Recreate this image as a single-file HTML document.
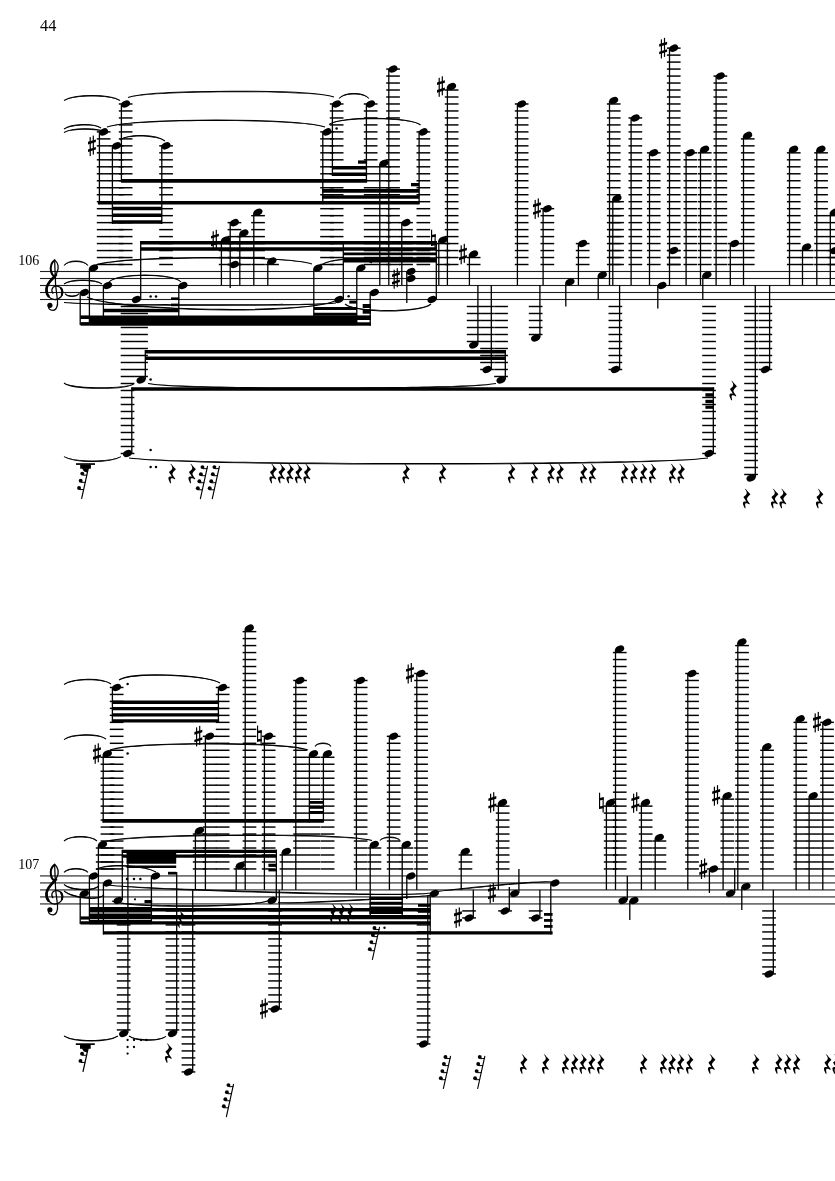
<!DOCTYPE html>
<html><head><meta charset="utf-8"><style>
html,body{margin:0;padding:0;background:#fff;}
svg{display:block;}
text{font-family:"Liberation Serif",serif;filter:grayscale(1);}
</style></head><body>
<svg width="835" height="1181" viewBox="0 0 835 1181" fill="#000" stroke="#000">
<g stroke="none">
<rect x="40" y="270.95" width="795" height="1.1" fill="#1e1e1e"/>
<rect x="40" y="277.95" width="795" height="1.1" fill="#1e1e1e"/>
<rect x="40" y="284.95" width="795" height="1.1" fill="#1e1e1e"/>
<rect x="40" y="291.95" width="795" height="1.1" fill="#1e1e1e"/>
<rect x="40" y="298.95" width="795" height="1.1" fill="#1e1e1e"/>
<g transform="translate(0,0)" fill="none" stroke="#000" stroke-linecap="round"><path d="M54.6,260.2 C58.6,262.5 59.0,268.5 57.0,272.5 C54.5,277.5 47.0,281.5 46.2,288.5 C45.6,295 50.5,299.8 55,299.6 C60,299.4 63,295.5 62.5,291.5 C62,287.5 58.5,285.8 55.5,286.2 C52,286.8 50.8,290.5 52.8,293.2" stroke-width="1.3"/><path d="M56.0,275.0 C52.5,279.0 47.4,282.5 46.6,288.5 C46.2,292.0 47.0,294.5 48.5,296.2" stroke-width="2.6"/><path d="M61.8,295.0 C62.8,292.5 62.4,290.0 61.0,288.2" stroke-width="2.0"/><path d="M54.6,260.2 C51.5,262.5 50.3,267 51.0,271 C51.5,274 53.5,276 55,277" stroke-width="2.0"/><path d="M54.7,262 L55.6,285 L57.5,300.5 C58.1,306 56.2,310.6 52.8,310.4 C50.2,310.2 48.6,308.8 48.5,307" stroke-width="1.25"/></g>
<circle cx="49.9" cy="305.3" r="2.6"/>
<text x="39.3" y="264.6" font-size="14" text-anchor="end" stroke="none">106</text>
<rect x="118.8" y="263.79" width="13.7" height="1.45"/>
<rect x="118.8" y="256.81" width="13.7" height="1.45"/>
<rect x="118.8" y="249.84" width="13.7" height="1.45"/>
<rect x="118.8" y="242.85" width="13.7" height="1.45"/>
<rect x="118.8" y="235.88" width="13.7" height="1.45"/>
<rect x="118.8" y="228.9" width="13.7" height="1.45"/>
<rect x="118.8" y="221.91" width="13.7" height="1.45"/>
<rect x="118.8" y="214.94" width="13.7" height="1.45"/>
<rect x="118.8" y="207.96" width="13.7" height="1.45"/>
<rect x="118.8" y="200.97" width="13.7" height="1.45"/>
<rect x="118.8" y="194" width="13.7" height="1.45"/>
<rect x="118.8" y="187.02" width="13.7" height="1.45"/>
<rect x="118.8" y="180.03" width="13.7" height="1.45"/>
<rect x="118.8" y="173.06" width="13.7" height="1.45"/>
<rect x="118.8" y="166.08" width="13.7" height="1.45"/>
<rect x="118.8" y="159.09" width="13.7" height="1.45"/>
<rect x="118.8" y="152.11" width="13.7" height="1.45"/>
<rect x="118.8" y="145.13" width="13.7" height="1.45"/>
<rect x="118.8" y="138.16" width="13.7" height="1.45"/>
<rect x="118.8" y="131.17" width="13.7" height="1.45"/>
<rect x="118.8" y="124.19" width="13.7" height="1.45"/>
<rect x="118.8" y="117.22" width="13.7" height="1.45"/>
<rect x="118.8" y="110.23" width="13.7" height="1.45"/>
<rect x="118.8" y="103.25" width="13.7" height="1.45"/>
<ellipse cx="125.6" cy="103.98" rx="4.7" ry="3.3" transform="rotate(-25 125.6 103.98)"/>
<rect x="120.75" y="104.48" width="1.3" height="77.52"/>
<rect x="96.8" y="263.79" width="13.7" height="1.45"/>
<rect x="96.8" y="256.81" width="13.7" height="1.45"/>
<rect x="96.8" y="249.84" width="13.7" height="1.45"/>
<rect x="96.8" y="242.85" width="13.7" height="1.45"/>
<rect x="96.8" y="235.88" width="13.7" height="1.45"/>
<rect x="96.8" y="228.9" width="13.7" height="1.45"/>
<rect x="96.8" y="221.91" width="13.7" height="1.45"/>
<rect x="96.8" y="214.94" width="13.7" height="1.45"/>
<rect x="96.8" y="207.96" width="13.7" height="1.45"/>
<rect x="96.8" y="200.97" width="13.7" height="1.45"/>
<rect x="96.8" y="194" width="13.7" height="1.45"/>
<rect x="96.8" y="187.02" width="13.7" height="1.45"/>
<rect x="96.8" y="180.03" width="13.7" height="1.45"/>
<rect x="96.8" y="173.06" width="13.7" height="1.45"/>
<rect x="96.8" y="166.08" width="13.7" height="1.45"/>
<rect x="96.8" y="159.09" width="13.7" height="1.45"/>
<rect x="96.8" y="152.11" width="13.7" height="1.45"/>
<rect x="96.8" y="145.13" width="13.7" height="1.45"/>
<rect x="96.8" y="138.16" width="13.7" height="1.45"/>
<rect x="96.8" y="131.17" width="13.7" height="1.45"/>
<ellipse cx="103.6" cy="131.9" rx="4.7" ry="3.3" transform="rotate(-25 103.6 131.9)"/>
<rect x="98.75" y="132.4" width="1.3" height="71.8"/>
<rect x="109.8" y="263.79" width="13.7" height="1.45"/>
<rect x="109.8" y="256.81" width="13.7" height="1.45"/>
<rect x="109.8" y="249.84" width="13.7" height="1.45"/>
<rect x="109.8" y="242.85" width="13.7" height="1.45"/>
<rect x="109.8" y="235.88" width="13.7" height="1.45"/>
<rect x="109.8" y="228.9" width="13.7" height="1.45"/>
<rect x="109.8" y="221.91" width="13.7" height="1.45"/>
<rect x="109.8" y="214.94" width="13.7" height="1.45"/>
<rect x="109.8" y="207.96" width="13.7" height="1.45"/>
<rect x="109.8" y="200.97" width="13.7" height="1.45"/>
<rect x="109.8" y="194" width="13.7" height="1.45"/>
<rect x="109.8" y="187.02" width="13.7" height="1.45"/>
<rect x="109.8" y="180.03" width="13.7" height="1.45"/>
<rect x="109.8" y="173.06" width="13.7" height="1.45"/>
<rect x="109.8" y="166.08" width="13.7" height="1.45"/>
<rect x="109.8" y="159.09" width="13.7" height="1.45"/>
<rect x="109.8" y="152.11" width="13.7" height="1.45"/>
<rect x="109.8" y="145.13" width="13.7" height="1.45"/>
<ellipse cx="116.6" cy="145.86" rx="4.7" ry="3.3" transform="rotate(-25 116.6 145.86)"/>
<rect x="111.75" y="146.36" width="1.3" height="77.64"/>
<rect x="159.2" y="263.79" width="13.7" height="1.45"/>
<rect x="159.2" y="256.81" width="13.7" height="1.45"/>
<rect x="159.2" y="249.84" width="13.7" height="1.45"/>
<rect x="159.2" y="242.85" width="13.7" height="1.45"/>
<rect x="159.2" y="235.88" width="13.7" height="1.45"/>
<rect x="159.2" y="228.9" width="13.7" height="1.45"/>
<rect x="159.2" y="221.91" width="13.7" height="1.45"/>
<rect x="159.2" y="214.94" width="13.7" height="1.45"/>
<rect x="159.2" y="207.96" width="13.7" height="1.45"/>
<rect x="159.2" y="200.97" width="13.7" height="1.45"/>
<rect x="159.2" y="194" width="13.7" height="1.45"/>
<rect x="159.2" y="187.02" width="13.7" height="1.45"/>
<rect x="159.2" y="180.03" width="13.7" height="1.45"/>
<rect x="159.2" y="173.06" width="13.7" height="1.45"/>
<rect x="159.2" y="166.08" width="13.7" height="1.45"/>
<rect x="159.2" y="159.09" width="13.7" height="1.45"/>
<rect x="159.2" y="152.11" width="13.7" height="1.45"/>
<rect x="159.2" y="145.13" width="13.7" height="1.45"/>
<ellipse cx="166" cy="145.86" rx="4.7" ry="3.3" transform="rotate(-25 166 145.86)"/>
<rect x="161.15" y="146.36" width="1.3" height="77.64"/>
<rect x="89.6" y="137.1" width="1.2" height="19"/>
<rect x="92.7" y="135.6" width="1.2" height="19"/>
<polygon points="88,141.8 95.9,139.5 95.9,142.1 88,144.4"/>
<polygon points="88,149.4 95.9,146.9 95.9,149.5 88,152"/>
<rect x="329.8" y="263.79" width="13.7" height="1.45"/>
<rect x="329.8" y="256.81" width="13.7" height="1.45"/>
<rect x="329.8" y="249.84" width="13.7" height="1.45"/>
<rect x="329.8" y="242.85" width="13.7" height="1.45"/>
<rect x="329.8" y="235.88" width="13.7" height="1.45"/>
<rect x="329.8" y="228.9" width="13.7" height="1.45"/>
<rect x="329.8" y="221.91" width="13.7" height="1.45"/>
<rect x="329.8" y="214.94" width="13.7" height="1.45"/>
<rect x="329.8" y="207.96" width="13.7" height="1.45"/>
<rect x="329.8" y="200.97" width="13.7" height="1.45"/>
<rect x="329.8" y="194" width="13.7" height="1.45"/>
<rect x="329.8" y="187.02" width="13.7" height="1.45"/>
<rect x="329.8" y="180.03" width="13.7" height="1.45"/>
<rect x="329.8" y="173.06" width="13.7" height="1.45"/>
<rect x="329.8" y="166.08" width="13.7" height="1.45"/>
<rect x="329.8" y="159.09" width="13.7" height="1.45"/>
<rect x="329.8" y="152.11" width="13.7" height="1.45"/>
<rect x="329.8" y="145.13" width="13.7" height="1.45"/>
<rect x="329.8" y="138.16" width="13.7" height="1.45"/>
<rect x="329.8" y="131.17" width="13.7" height="1.45"/>
<rect x="329.8" y="124.19" width="13.7" height="1.45"/>
<rect x="329.8" y="117.22" width="13.7" height="1.45"/>
<rect x="329.8" y="110.23" width="13.7" height="1.45"/>
<rect x="329.8" y="103.25" width="13.7" height="1.45"/>
<ellipse cx="336.6" cy="103.98" rx="4.7" ry="3.3" transform="rotate(-25 336.6 103.98)"/>
<rect x="331.75" y="104.48" width="1.3" height="71.52"/>
<rect x="320.2" y="263.79" width="13.7" height="1.45"/>
<rect x="320.2" y="256.81" width="13.7" height="1.45"/>
<rect x="320.2" y="249.84" width="13.7" height="1.45"/>
<rect x="320.2" y="242.85" width="13.7" height="1.45"/>
<rect x="320.2" y="235.88" width="13.7" height="1.45"/>
<rect x="320.2" y="228.9" width="13.7" height="1.45"/>
<rect x="320.2" y="221.91" width="13.7" height="1.45"/>
<rect x="320.2" y="214.94" width="13.7" height="1.45"/>
<rect x="320.2" y="207.96" width="13.7" height="1.45"/>
<rect x="320.2" y="200.97" width="13.7" height="1.45"/>
<rect x="320.2" y="194" width="13.7" height="1.45"/>
<rect x="320.2" y="187.02" width="13.7" height="1.45"/>
<rect x="320.2" y="180.03" width="13.7" height="1.45"/>
<rect x="320.2" y="173.06" width="13.7" height="1.45"/>
<rect x="320.2" y="166.08" width="13.7" height="1.45"/>
<rect x="320.2" y="159.09" width="13.7" height="1.45"/>
<rect x="320.2" y="152.11" width="13.7" height="1.45"/>
<rect x="320.2" y="145.13" width="13.7" height="1.45"/>
<rect x="320.2" y="138.16" width="13.7" height="1.45"/>
<rect x="320.2" y="131.17" width="13.7" height="1.45"/>
<ellipse cx="327" cy="131.9" rx="4.7" ry="3.3" transform="rotate(-25 327 131.9)"/>
<rect x="322.15" y="132.4" width="1.3" height="71.8"/>
<circle cx="336.6" cy="128.6" r="1.25"/>
<rect x="363.8" y="263.79" width="13.7" height="1.45"/>
<rect x="363.8" y="256.81" width="13.7" height="1.45"/>
<rect x="363.8" y="249.84" width="13.7" height="1.45"/>
<rect x="363.8" y="242.85" width="13.7" height="1.45"/>
<rect x="363.8" y="235.88" width="13.7" height="1.45"/>
<rect x="363.8" y="228.9" width="13.7" height="1.45"/>
<rect x="363.8" y="221.91" width="13.7" height="1.45"/>
<rect x="363.8" y="214.94" width="13.7" height="1.45"/>
<rect x="363.8" y="207.96" width="13.7" height="1.45"/>
<rect x="363.8" y="200.97" width="13.7" height="1.45"/>
<rect x="363.8" y="194" width="13.7" height="1.45"/>
<rect x="363.8" y="187.02" width="13.7" height="1.45"/>
<rect x="363.8" y="180.03" width="13.7" height="1.45"/>
<rect x="363.8" y="173.06" width="13.7" height="1.45"/>
<rect x="363.8" y="166.08" width="13.7" height="1.45"/>
<rect x="363.8" y="159.09" width="13.7" height="1.45"/>
<rect x="363.8" y="152.11" width="13.7" height="1.45"/>
<rect x="363.8" y="145.13" width="13.7" height="1.45"/>
<rect x="363.8" y="138.16" width="13.7" height="1.45"/>
<rect x="363.8" y="131.17" width="13.7" height="1.45"/>
<rect x="363.8" y="124.19" width="13.7" height="1.45"/>
<rect x="363.8" y="117.22" width="13.7" height="1.45"/>
<rect x="363.8" y="110.23" width="13.7" height="1.45"/>
<rect x="363.8" y="103.25" width="13.7" height="1.45"/>
<ellipse cx="370.6" cy="103.98" rx="4.7" ry="3.3" transform="rotate(-25 370.6 103.98)"/>
<rect x="365.75" y="104.48" width="1.3" height="77.52"/>
<rect x="386.2" y="263.79" width="13.7" height="1.45"/>
<rect x="386.2" y="256.81" width="13.7" height="1.45"/>
<rect x="386.2" y="249.84" width="13.7" height="1.45"/>
<rect x="386.2" y="242.85" width="13.7" height="1.45"/>
<rect x="386.2" y="235.88" width="13.7" height="1.45"/>
<rect x="386.2" y="228.9" width="13.7" height="1.45"/>
<rect x="386.2" y="221.91" width="13.7" height="1.45"/>
<rect x="386.2" y="214.94" width="13.7" height="1.45"/>
<rect x="386.2" y="207.96" width="13.7" height="1.45"/>
<rect x="386.2" y="200.97" width="13.7" height="1.45"/>
<rect x="386.2" y="194" width="13.7" height="1.45"/>
<rect x="386.2" y="187.02" width="13.7" height="1.45"/>
<rect x="386.2" y="180.03" width="13.7" height="1.45"/>
<rect x="386.2" y="173.06" width="13.7" height="1.45"/>
<rect x="386.2" y="166.08" width="13.7" height="1.45"/>
<rect x="386.2" y="159.09" width="13.7" height="1.45"/>
<rect x="386.2" y="152.11" width="13.7" height="1.45"/>
<rect x="386.2" y="145.13" width="13.7" height="1.45"/>
<rect x="386.2" y="138.16" width="13.7" height="1.45"/>
<rect x="386.2" y="131.17" width="13.7" height="1.45"/>
<rect x="386.2" y="124.19" width="13.7" height="1.45"/>
<rect x="386.2" y="117.22" width="13.7" height="1.45"/>
<rect x="386.2" y="110.23" width="13.7" height="1.45"/>
<rect x="386.2" y="103.25" width="13.7" height="1.45"/>
<rect x="386.2" y="96.28" width="13.7" height="1.45"/>
<rect x="386.2" y="89.29" width="13.7" height="1.45"/>
<rect x="386.2" y="82.31" width="13.7" height="1.45"/>
<rect x="386.2" y="75.34" width="13.7" height="1.45"/>
<rect x="386.2" y="68.35" width="13.7" height="1.45"/>
<ellipse cx="393" cy="69.08" rx="4.7" ry="3.3" transform="rotate(-25 393 69.08)"/>
<rect x="388.15" y="69.58" width="1.3" height="215.42"/>
<rect x="377.2" y="263.79" width="13.7" height="1.45"/>
<rect x="377.2" y="256.81" width="13.7" height="1.45"/>
<rect x="377.2" y="249.84" width="13.7" height="1.45"/>
<rect x="377.2" y="242.85" width="13.7" height="1.45"/>
<rect x="377.2" y="235.88" width="13.7" height="1.45"/>
<rect x="377.2" y="228.9" width="13.7" height="1.45"/>
<rect x="377.2" y="221.91" width="13.7" height="1.45"/>
<rect x="377.2" y="214.94" width="13.7" height="1.45"/>
<rect x="377.2" y="207.96" width="13.7" height="1.45"/>
<rect x="377.2" y="200.97" width="13.7" height="1.45"/>
<rect x="377.2" y="194" width="13.7" height="1.45"/>
<rect x="377.2" y="187.02" width="13.7" height="1.45"/>
<rect x="377.2" y="180.03" width="13.7" height="1.45"/>
<rect x="377.2" y="173.06" width="13.7" height="1.45"/>
<rect x="377.2" y="166.08" width="13.7" height="1.45"/>
<ellipse cx="384" cy="163.31" rx="4.7" ry="3.3" transform="rotate(-25 384 163.31)"/>
<rect x="379.15" y="163.81" width="1.3" height="121.19"/>
<rect x="416.5" y="263.79" width="13.7" height="1.45"/>
<rect x="416.5" y="256.81" width="13.7" height="1.45"/>
<rect x="416.5" y="249.84" width="13.7" height="1.45"/>
<rect x="416.5" y="242.85" width="13.7" height="1.45"/>
<rect x="416.5" y="235.88" width="13.7" height="1.45"/>
<rect x="416.5" y="228.9" width="13.7" height="1.45"/>
<rect x="416.5" y="221.91" width="13.7" height="1.45"/>
<rect x="416.5" y="214.94" width="13.7" height="1.45"/>
<rect x="416.5" y="207.96" width="13.7" height="1.45"/>
<rect x="416.5" y="200.97" width="13.7" height="1.45"/>
<rect x="416.5" y="194" width="13.7" height="1.45"/>
<rect x="416.5" y="187.02" width="13.7" height="1.45"/>
<rect x="416.5" y="180.03" width="13.7" height="1.45"/>
<rect x="416.5" y="173.06" width="13.7" height="1.45"/>
<rect x="416.5" y="166.08" width="13.7" height="1.45"/>
<rect x="416.5" y="159.09" width="13.7" height="1.45"/>
<rect x="416.5" y="152.11" width="13.7" height="1.45"/>
<rect x="416.5" y="145.13" width="13.7" height="1.45"/>
<rect x="416.5" y="138.16" width="13.7" height="1.45"/>
<rect x="416.5" y="131.17" width="13.7" height="1.45"/>
<ellipse cx="423.3" cy="131.9" rx="4.7" ry="3.3" transform="rotate(-25 423.3 131.9)"/>
<rect x="418.45" y="132.4" width="1.3" height="71.8"/>
<rect x="444.8" y="263.79" width="13.7" height="1.45"/>
<rect x="444.8" y="256.81" width="13.7" height="1.45"/>
<rect x="444.8" y="249.84" width="13.7" height="1.45"/>
<rect x="444.8" y="242.85" width="13.7" height="1.45"/>
<rect x="444.8" y="235.88" width="13.7" height="1.45"/>
<rect x="444.8" y="228.9" width="13.7" height="1.45"/>
<rect x="444.8" y="221.91" width="13.7" height="1.45"/>
<rect x="444.8" y="214.94" width="13.7" height="1.45"/>
<rect x="444.8" y="207.96" width="13.7" height="1.45"/>
<rect x="444.8" y="200.97" width="13.7" height="1.45"/>
<rect x="444.8" y="194" width="13.7" height="1.45"/>
<rect x="444.8" y="187.02" width="13.7" height="1.45"/>
<rect x="444.8" y="180.03" width="13.7" height="1.45"/>
<rect x="444.8" y="173.06" width="13.7" height="1.45"/>
<rect x="444.8" y="166.08" width="13.7" height="1.45"/>
<rect x="444.8" y="159.09" width="13.7" height="1.45"/>
<rect x="444.8" y="152.11" width="13.7" height="1.45"/>
<rect x="444.8" y="145.13" width="13.7" height="1.45"/>
<rect x="444.8" y="138.16" width="13.7" height="1.45"/>
<rect x="444.8" y="131.17" width="13.7" height="1.45"/>
<rect x="444.8" y="124.19" width="13.7" height="1.45"/>
<rect x="444.8" y="117.22" width="13.7" height="1.45"/>
<rect x="444.8" y="110.23" width="13.7" height="1.45"/>
<rect x="444.8" y="103.25" width="13.7" height="1.45"/>
<rect x="444.8" y="96.28" width="13.7" height="1.45"/>
<rect x="444.8" y="89.29" width="13.7" height="1.45"/>
<ellipse cx="451.6" cy="86.53" rx="4.7" ry="3.3" transform="rotate(-25 451.6 86.53)"/>
<rect x="446.75" y="87.03" width="1.3" height="197.97"/>
<rect x="438.6" y="77.8" width="1.2" height="19"/>
<rect x="441.7" y="76.3" width="1.2" height="19"/>
<polygon points="437,82.5 444.9,80.2 444.9,82.8 437,85.1"/>
<polygon points="437,90.1 444.9,87.6 444.9,90.2 437,92.7"/>
<rect x="399.2" y="263.79" width="13.7" height="1.45"/>
<rect x="399.2" y="256.81" width="13.7" height="1.45"/>
<rect x="399.2" y="249.84" width="13.7" height="1.45"/>
<rect x="399.2" y="242.85" width="13.7" height="1.45"/>
<rect x="399.2" y="235.88" width="13.7" height="1.45"/>
<rect x="399.2" y="228.9" width="13.7" height="1.45"/>
<rect x="399.2" y="221.91" width="13.7" height="1.45"/>
<ellipse cx="406" cy="222.64" rx="4.7" ry="3.3" transform="rotate(-25 406 222.64)"/>
<rect x="401.15" y="223.14" width="1.3" height="61.86"/>
<rect x="436.2" y="263.79" width="13.7" height="1.45"/>
<rect x="436.2" y="256.81" width="13.7" height="1.45"/>
<rect x="436.2" y="249.84" width="13.7" height="1.45"/>
<rect x="436.2" y="242.85" width="13.7" height="1.45"/>
<ellipse cx="443" cy="240.09" rx="4.7" ry="3.3" transform="rotate(-25 443 240.09)"/>
<rect x="438.15" y="240.59" width="1.3" height="44.41"/>
<rect x="431" y="229.7" width="1.15" height="16.2"/>
<rect x="434.55" y="234.3" width="1.15" height="15.2"/>
<polygon points="431,234.9 435.7,234.3 435.7,236.8 431,237.4"/>
<polygon points="431,243.4 435.7,242.8 435.7,245.3 431,245.9"/>
<rect x="466.8" y="263.79" width="13.7" height="1.45"/>
<rect x="466.8" y="256.81" width="13.7" height="1.45"/>
<ellipse cx="473.6" cy="254.05" rx="4.7" ry="3.3" transform="rotate(-25 473.6 254.05)"/>
<rect x="468.75" y="254.55" width="1.3" height="30.45"/>
<rect x="460.6" y="245.3" width="1.2" height="19"/>
<rect x="463.7" y="243.8" width="1.2" height="19"/>
<polygon points="459,250 466.9,247.7 466.9,250.3 459,252.6"/>
<polygon points="459,257.6 466.9,255.1 466.9,257.7 459,260.2"/>
<rect x="514.8" y="263.79" width="13.7" height="1.45"/>
<rect x="514.8" y="256.81" width="13.7" height="1.45"/>
<rect x="514.8" y="249.84" width="13.7" height="1.45"/>
<rect x="514.8" y="242.85" width="13.7" height="1.45"/>
<rect x="514.8" y="235.88" width="13.7" height="1.45"/>
<rect x="514.8" y="228.9" width="13.7" height="1.45"/>
<rect x="514.8" y="221.91" width="13.7" height="1.45"/>
<rect x="514.8" y="214.94" width="13.7" height="1.45"/>
<rect x="514.8" y="207.96" width="13.7" height="1.45"/>
<rect x="514.8" y="200.97" width="13.7" height="1.45"/>
<rect x="514.8" y="194" width="13.7" height="1.45"/>
<rect x="514.8" y="187.02" width="13.7" height="1.45"/>
<rect x="514.8" y="180.03" width="13.7" height="1.45"/>
<rect x="514.8" y="173.06" width="13.7" height="1.45"/>
<rect x="514.8" y="166.08" width="13.7" height="1.45"/>
<rect x="514.8" y="159.09" width="13.7" height="1.45"/>
<rect x="514.8" y="152.11" width="13.7" height="1.45"/>
<rect x="514.8" y="145.13" width="13.7" height="1.45"/>
<rect x="514.8" y="138.16" width="13.7" height="1.45"/>
<rect x="514.8" y="131.17" width="13.7" height="1.45"/>
<rect x="514.8" y="124.19" width="13.7" height="1.45"/>
<rect x="514.8" y="117.22" width="13.7" height="1.45"/>
<rect x="514.8" y="110.23" width="13.7" height="1.45"/>
<rect x="514.8" y="103.25" width="13.7" height="1.45"/>
<ellipse cx="521.6" cy="103.98" rx="4.7" ry="3.3" transform="rotate(-25 521.6 103.98)"/>
<rect x="516.75" y="104.48" width="1.3" height="180.52"/>
<rect x="540.5" y="263.79" width="13.7" height="1.45"/>
<rect x="540.5" y="256.81" width="13.7" height="1.45"/>
<rect x="540.5" y="249.84" width="13.7" height="1.45"/>
<rect x="540.5" y="242.85" width="13.7" height="1.45"/>
<rect x="540.5" y="235.88" width="13.7" height="1.45"/>
<rect x="540.5" y="228.9" width="13.7" height="1.45"/>
<rect x="540.5" y="221.91" width="13.7" height="1.45"/>
<rect x="540.5" y="214.94" width="13.7" height="1.45"/>
<rect x="540.5" y="207.96" width="13.7" height="1.45"/>
<ellipse cx="547.3" cy="208.68" rx="4.7" ry="3.3" transform="rotate(-25 547.3 208.68)"/>
<rect x="542.45" y="209.18" width="1.3" height="75.82"/>
<rect x="534.6" y="199.9" width="1.2" height="19"/>
<rect x="537.7" y="198.4" width="1.2" height="19"/>
<polygon points="533,204.6 540.9,202.3 540.9,204.9 533,207.2"/>
<polygon points="533,212.2 540.9,209.7 540.9,212.3 533,214.8"/>
<ellipse cx="570" cy="282" rx="4.7" ry="3.3" transform="rotate(-25 570 282)"/>
<rect x="565.15" y="282.5" width="1.3" height="24"/>
<rect x="575.8" y="263.79" width="13.7" height="1.45"/>
<rect x="575.8" y="256.81" width="13.7" height="1.45"/>
<rect x="575.8" y="249.84" width="13.7" height="1.45"/>
<rect x="575.8" y="242.85" width="13.7" height="1.45"/>
<ellipse cx="582.6" cy="243.58" rx="4.7" ry="3.3" transform="rotate(-25 582.6 243.58)"/>
<rect x="577.75" y="244.08" width="1.3" height="40.92"/>
<ellipse cx="602.4" cy="275" rx="4.7" ry="3.3" transform="rotate(-25 602.4 275)"/>
<rect x="597.55" y="275.5" width="1.3" height="24"/>
<rect x="606.9" y="263.79" width="13.7" height="1.45"/>
<rect x="606.9" y="256.81" width="13.7" height="1.45"/>
<rect x="606.9" y="249.84" width="13.7" height="1.45"/>
<rect x="606.9" y="242.85" width="13.7" height="1.45"/>
<rect x="606.9" y="235.88" width="13.7" height="1.45"/>
<rect x="606.9" y="228.9" width="13.7" height="1.45"/>
<rect x="606.9" y="221.91" width="13.7" height="1.45"/>
<rect x="606.9" y="214.94" width="13.7" height="1.45"/>
<rect x="606.9" y="207.96" width="13.7" height="1.45"/>
<rect x="606.9" y="200.97" width="13.7" height="1.45"/>
<rect x="606.9" y="194" width="13.7" height="1.45"/>
<rect x="606.9" y="187.02" width="13.7" height="1.45"/>
<rect x="606.9" y="180.03" width="13.7" height="1.45"/>
<rect x="606.9" y="173.06" width="13.7" height="1.45"/>
<rect x="606.9" y="166.08" width="13.7" height="1.45"/>
<rect x="606.9" y="159.09" width="13.7" height="1.45"/>
<rect x="606.9" y="152.11" width="13.7" height="1.45"/>
<rect x="606.9" y="145.13" width="13.7" height="1.45"/>
<rect x="606.9" y="138.16" width="13.7" height="1.45"/>
<rect x="606.9" y="131.17" width="13.7" height="1.45"/>
<rect x="606.9" y="124.19" width="13.7" height="1.45"/>
<rect x="606.9" y="117.22" width="13.7" height="1.45"/>
<rect x="606.9" y="110.23" width="13.7" height="1.45"/>
<rect x="606.9" y="103.25" width="13.7" height="1.45"/>
<ellipse cx="613.7" cy="100.49" rx="4.7" ry="3.3" transform="rotate(-25 613.7 100.49)"/>
<rect x="608.85" y="100.99" width="1.3" height="184.01"/>
<rect x="610.2" y="263.79" width="13.7" height="1.45"/>
<rect x="610.2" y="256.81" width="13.7" height="1.45"/>
<rect x="610.2" y="249.84" width="13.7" height="1.45"/>
<rect x="610.2" y="242.85" width="13.7" height="1.45"/>
<rect x="610.2" y="235.88" width="13.7" height="1.45"/>
<rect x="610.2" y="228.9" width="13.7" height="1.45"/>
<rect x="610.2" y="221.91" width="13.7" height="1.45"/>
<rect x="610.2" y="214.94" width="13.7" height="1.45"/>
<rect x="610.2" y="207.96" width="13.7" height="1.45"/>
<rect x="610.2" y="200.97" width="13.7" height="1.45"/>
<ellipse cx="617" cy="198.21" rx="4.7" ry="3.3" transform="rotate(-25 617 198.21)"/>
<rect x="612.15" y="198.71" width="1.3" height="86.29"/>
<rect x="628.5" y="263.79" width="13.7" height="1.45"/>
<rect x="628.5" y="256.81" width="13.7" height="1.45"/>
<rect x="628.5" y="249.84" width="13.7" height="1.45"/>
<rect x="628.5" y="242.85" width="13.7" height="1.45"/>
<rect x="628.5" y="235.88" width="13.7" height="1.45"/>
<rect x="628.5" y="228.9" width="13.7" height="1.45"/>
<rect x="628.5" y="221.91" width="13.7" height="1.45"/>
<rect x="628.5" y="214.94" width="13.7" height="1.45"/>
<rect x="628.5" y="207.96" width="13.7" height="1.45"/>
<rect x="628.5" y="200.97" width="13.7" height="1.45"/>
<rect x="628.5" y="194" width="13.7" height="1.45"/>
<rect x="628.5" y="187.02" width="13.7" height="1.45"/>
<rect x="628.5" y="180.03" width="13.7" height="1.45"/>
<rect x="628.5" y="173.06" width="13.7" height="1.45"/>
<rect x="628.5" y="166.08" width="13.7" height="1.45"/>
<rect x="628.5" y="159.09" width="13.7" height="1.45"/>
<rect x="628.5" y="152.11" width="13.7" height="1.45"/>
<rect x="628.5" y="145.13" width="13.7" height="1.45"/>
<rect x="628.5" y="138.16" width="13.7" height="1.45"/>
<rect x="628.5" y="131.17" width="13.7" height="1.45"/>
<rect x="628.5" y="124.19" width="13.7" height="1.45"/>
<rect x="628.5" y="117.22" width="13.7" height="1.45"/>
<ellipse cx="635.3" cy="117.94" rx="4.7" ry="3.3" transform="rotate(-25 635.3 117.94)"/>
<rect x="630.45" y="118.44" width="1.3" height="166.56"/>
<rect x="646.9" y="263.79" width="13.7" height="1.45"/>
<rect x="646.9" y="256.81" width="13.7" height="1.45"/>
<rect x="646.9" y="249.84" width="13.7" height="1.45"/>
<rect x="646.9" y="242.85" width="13.7" height="1.45"/>
<rect x="646.9" y="235.88" width="13.7" height="1.45"/>
<rect x="646.9" y="228.9" width="13.7" height="1.45"/>
<rect x="646.9" y="221.91" width="13.7" height="1.45"/>
<rect x="646.9" y="214.94" width="13.7" height="1.45"/>
<rect x="646.9" y="207.96" width="13.7" height="1.45"/>
<rect x="646.9" y="200.97" width="13.7" height="1.45"/>
<rect x="646.9" y="194" width="13.7" height="1.45"/>
<rect x="646.9" y="187.02" width="13.7" height="1.45"/>
<rect x="646.9" y="180.03" width="13.7" height="1.45"/>
<rect x="646.9" y="173.06" width="13.7" height="1.45"/>
<rect x="646.9" y="166.08" width="13.7" height="1.45"/>
<rect x="646.9" y="159.09" width="13.7" height="1.45"/>
<rect x="646.9" y="152.11" width="13.7" height="1.45"/>
<ellipse cx="653.7" cy="152.84" rx="4.7" ry="3.3" transform="rotate(-25 653.7 152.84)"/>
<rect x="648.85" y="153.34" width="1.3" height="131.66"/>
<ellipse cx="662" cy="285.5" rx="4.7" ry="3.3" transform="rotate(-25 662 285.5)"/>
<rect x="657.15" y="286" width="1.3" height="22.5"/>
<rect x="666.9" y="263.79" width="13.7" height="1.45"/>
<rect x="666.9" y="256.81" width="13.7" height="1.45"/>
<rect x="666.9" y="249.84" width="13.7" height="1.45"/>
<rect x="666.9" y="242.85" width="13.7" height="1.45"/>
<rect x="666.9" y="235.88" width="13.7" height="1.45"/>
<rect x="666.9" y="228.9" width="13.7" height="1.45"/>
<rect x="666.9" y="221.91" width="13.7" height="1.45"/>
<rect x="666.9" y="214.94" width="13.7" height="1.45"/>
<rect x="666.9" y="207.96" width="13.7" height="1.45"/>
<rect x="666.9" y="200.97" width="13.7" height="1.45"/>
<rect x="666.9" y="194" width="13.7" height="1.45"/>
<rect x="666.9" y="187.02" width="13.7" height="1.45"/>
<rect x="666.9" y="180.03" width="13.7" height="1.45"/>
<rect x="666.9" y="173.06" width="13.7" height="1.45"/>
<rect x="666.9" y="166.08" width="13.7" height="1.45"/>
<rect x="666.9" y="159.09" width="13.7" height="1.45"/>
<rect x="666.9" y="152.11" width="13.7" height="1.45"/>
<rect x="666.9" y="145.13" width="13.7" height="1.45"/>
<rect x="666.9" y="138.16" width="13.7" height="1.45"/>
<rect x="666.9" y="131.17" width="13.7" height="1.45"/>
<rect x="666.9" y="124.19" width="13.7" height="1.45"/>
<rect x="666.9" y="117.22" width="13.7" height="1.45"/>
<rect x="666.9" y="110.23" width="13.7" height="1.45"/>
<rect x="666.9" y="103.25" width="13.7" height="1.45"/>
<rect x="666.9" y="96.28" width="13.7" height="1.45"/>
<rect x="666.9" y="89.29" width="13.7" height="1.45"/>
<rect x="666.9" y="82.31" width="13.7" height="1.45"/>
<rect x="666.9" y="75.34" width="13.7" height="1.45"/>
<rect x="666.9" y="68.35" width="13.7" height="1.45"/>
<rect x="666.9" y="61.37" width="13.7" height="1.45"/>
<rect x="666.9" y="54.39" width="13.7" height="1.45"/>
<rect x="666.9" y="47.41" width="13.7" height="1.45"/>
<ellipse cx="673.7" cy="48.14" rx="4.7" ry="3.3" transform="rotate(-25 673.7 48.14)"/>
<rect x="668.85" y="48.64" width="1.3" height="237.36"/>
<rect x="660.8" y="39.4" width="1.2" height="19"/>
<rect x="663.9" y="37.9" width="1.2" height="19"/>
<polygon points="659.2,44.1 667.1,41.8 667.1,44.4 659.2,46.7"/>
<polygon points="659.2,51.7 667.1,49.2 667.1,51.8 659.2,54.3"/>
<rect x="666.9" y="263.79" width="13.7" height="1.45"/>
<rect x="666.9" y="256.81" width="13.7" height="1.45"/>
<rect x="666.9" y="249.84" width="13.7" height="1.45"/>
<ellipse cx="673.7" cy="250.56" rx="4.7" ry="3.3" transform="rotate(-25 673.7 250.56)"/>
<rect x="683.5" y="263.79" width="13.7" height="1.45"/>
<rect x="683.5" y="256.81" width="13.7" height="1.45"/>
<rect x="683.5" y="249.84" width="13.7" height="1.45"/>
<rect x="683.5" y="242.85" width="13.7" height="1.45"/>
<rect x="683.5" y="235.88" width="13.7" height="1.45"/>
<rect x="683.5" y="228.9" width="13.7" height="1.45"/>
<rect x="683.5" y="221.91" width="13.7" height="1.45"/>
<rect x="683.5" y="214.94" width="13.7" height="1.45"/>
<rect x="683.5" y="207.96" width="13.7" height="1.45"/>
<rect x="683.5" y="200.97" width="13.7" height="1.45"/>
<rect x="683.5" y="194" width="13.7" height="1.45"/>
<rect x="683.5" y="187.02" width="13.7" height="1.45"/>
<rect x="683.5" y="180.03" width="13.7" height="1.45"/>
<rect x="683.5" y="173.06" width="13.7" height="1.45"/>
<rect x="683.5" y="166.08" width="13.7" height="1.45"/>
<rect x="683.5" y="159.09" width="13.7" height="1.45"/>
<rect x="683.5" y="152.11" width="13.7" height="1.45"/>
<ellipse cx="690.3" cy="152.84" rx="4.7" ry="3.3" transform="rotate(-25 690.3 152.84)"/>
<rect x="685.45" y="153.34" width="1.3" height="131.66"/>
<rect x="697.9" y="263.79" width="13.7" height="1.45"/>
<rect x="697.9" y="256.81" width="13.7" height="1.45"/>
<rect x="697.9" y="249.84" width="13.7" height="1.45"/>
<rect x="697.9" y="242.85" width="13.7" height="1.45"/>
<rect x="697.9" y="235.88" width="13.7" height="1.45"/>
<rect x="697.9" y="228.9" width="13.7" height="1.45"/>
<rect x="697.9" y="221.91" width="13.7" height="1.45"/>
<rect x="697.9" y="214.94" width="13.7" height="1.45"/>
<rect x="697.9" y="207.96" width="13.7" height="1.45"/>
<rect x="697.9" y="200.97" width="13.7" height="1.45"/>
<rect x="697.9" y="194" width="13.7" height="1.45"/>
<rect x="697.9" y="187.02" width="13.7" height="1.45"/>
<rect x="697.9" y="180.03" width="13.7" height="1.45"/>
<rect x="697.9" y="173.06" width="13.7" height="1.45"/>
<rect x="697.9" y="166.08" width="13.7" height="1.45"/>
<rect x="697.9" y="159.09" width="13.7" height="1.45"/>
<rect x="697.9" y="152.11" width="13.7" height="1.45"/>
<ellipse cx="704.7" cy="149.35" rx="4.7" ry="3.3" transform="rotate(-25 704.7 149.35)"/>
<rect x="699.85" y="149.85" width="1.3" height="135.15"/>
<ellipse cx="707" cy="275" rx="4.7" ry="3.3" transform="rotate(-25 707 275)"/>
<rect x="702.15" y="275.5" width="1.3" height="24"/>
<rect x="713.5" y="263.79" width="13.7" height="1.45"/>
<rect x="713.5" y="256.81" width="13.7" height="1.45"/>
<rect x="713.5" y="249.84" width="13.7" height="1.45"/>
<rect x="713.5" y="242.85" width="13.7" height="1.45"/>
<rect x="713.5" y="235.88" width="13.7" height="1.45"/>
<rect x="713.5" y="228.9" width="13.7" height="1.45"/>
<rect x="713.5" y="221.91" width="13.7" height="1.45"/>
<rect x="713.5" y="214.94" width="13.7" height="1.45"/>
<rect x="713.5" y="207.96" width="13.7" height="1.45"/>
<rect x="713.5" y="200.97" width="13.7" height="1.45"/>
<rect x="713.5" y="194" width="13.7" height="1.45"/>
<rect x="713.5" y="187.02" width="13.7" height="1.45"/>
<rect x="713.5" y="180.03" width="13.7" height="1.45"/>
<rect x="713.5" y="173.06" width="13.7" height="1.45"/>
<rect x="713.5" y="166.08" width="13.7" height="1.45"/>
<rect x="713.5" y="159.09" width="13.7" height="1.45"/>
<rect x="713.5" y="152.11" width="13.7" height="1.45"/>
<rect x="713.5" y="145.13" width="13.7" height="1.45"/>
<rect x="713.5" y="138.16" width="13.7" height="1.45"/>
<rect x="713.5" y="131.17" width="13.7" height="1.45"/>
<rect x="713.5" y="124.19" width="13.7" height="1.45"/>
<rect x="713.5" y="117.22" width="13.7" height="1.45"/>
<rect x="713.5" y="110.23" width="13.7" height="1.45"/>
<rect x="713.5" y="103.25" width="13.7" height="1.45"/>
<rect x="713.5" y="96.28" width="13.7" height="1.45"/>
<rect x="713.5" y="89.29" width="13.7" height="1.45"/>
<rect x="713.5" y="82.31" width="13.7" height="1.45"/>
<rect x="713.5" y="75.34" width="13.7" height="1.45"/>
<ellipse cx="720.3" cy="76.06" rx="4.7" ry="3.3" transform="rotate(-25 720.3 76.06)"/>
<rect x="715.45" y="76.56" width="1.3" height="208.44"/>
<rect x="727.7" y="263.79" width="13.7" height="1.45"/>
<rect x="727.7" y="256.81" width="13.7" height="1.45"/>
<rect x="727.7" y="249.84" width="13.7" height="1.45"/>
<rect x="727.7" y="242.85" width="13.7" height="1.45"/>
<ellipse cx="734.5" cy="243.58" rx="4.7" ry="3.3" transform="rotate(-25 734.5 243.58)"/>
<rect x="729.65" y="244.08" width="1.3" height="40.92"/>
<rect x="740.9" y="263.79" width="13.7" height="1.45"/>
<rect x="740.9" y="256.81" width="13.7" height="1.45"/>
<rect x="740.9" y="249.84" width="13.7" height="1.45"/>
<rect x="740.9" y="242.85" width="13.7" height="1.45"/>
<rect x="740.9" y="235.88" width="13.7" height="1.45"/>
<rect x="740.9" y="228.9" width="13.7" height="1.45"/>
<rect x="740.9" y="221.91" width="13.7" height="1.45"/>
<rect x="740.9" y="214.94" width="13.7" height="1.45"/>
<rect x="740.9" y="207.96" width="13.7" height="1.45"/>
<rect x="740.9" y="200.97" width="13.7" height="1.45"/>
<rect x="740.9" y="194" width="13.7" height="1.45"/>
<rect x="740.9" y="187.02" width="13.7" height="1.45"/>
<rect x="740.9" y="180.03" width="13.7" height="1.45"/>
<rect x="740.9" y="173.06" width="13.7" height="1.45"/>
<rect x="740.9" y="166.08" width="13.7" height="1.45"/>
<rect x="740.9" y="159.09" width="13.7" height="1.45"/>
<rect x="740.9" y="152.11" width="13.7" height="1.45"/>
<rect x="740.9" y="145.13" width="13.7" height="1.45"/>
<rect x="740.9" y="138.16" width="13.7" height="1.45"/>
<ellipse cx="747.7" cy="135.39" rx="4.7" ry="3.3" transform="rotate(-25 747.7 135.39)"/>
<rect x="742.85" y="135.89" width="1.3" height="149.11"/>
<rect x="786.9" y="263.79" width="13.7" height="1.45"/>
<rect x="786.9" y="256.81" width="13.7" height="1.45"/>
<rect x="786.9" y="249.84" width="13.7" height="1.45"/>
<rect x="786.9" y="242.85" width="13.7" height="1.45"/>
<rect x="786.9" y="235.88" width="13.7" height="1.45"/>
<rect x="786.9" y="228.9" width="13.7" height="1.45"/>
<rect x="786.9" y="221.91" width="13.7" height="1.45"/>
<rect x="786.9" y="214.94" width="13.7" height="1.45"/>
<rect x="786.9" y="207.96" width="13.7" height="1.45"/>
<rect x="786.9" y="200.97" width="13.7" height="1.45"/>
<rect x="786.9" y="194" width="13.7" height="1.45"/>
<rect x="786.9" y="187.02" width="13.7" height="1.45"/>
<rect x="786.9" y="180.03" width="13.7" height="1.45"/>
<rect x="786.9" y="173.06" width="13.7" height="1.45"/>
<rect x="786.9" y="166.08" width="13.7" height="1.45"/>
<rect x="786.9" y="159.09" width="13.7" height="1.45"/>
<rect x="786.9" y="152.11" width="13.7" height="1.45"/>
<ellipse cx="793.7" cy="149.35" rx="4.7" ry="3.3" transform="rotate(-25 793.7 149.35)"/>
<rect x="788.85" y="149.85" width="1.3" height="135.15"/>
<rect x="799.9" y="263.79" width="13.7" height="1.45"/>
<rect x="799.9" y="256.81" width="13.7" height="1.45"/>
<rect x="799.9" y="249.84" width="13.7" height="1.45"/>
<ellipse cx="806.7" cy="247.07" rx="4.7" ry="3.3" transform="rotate(-25 806.7 247.07)"/>
<rect x="801.85" y="247.57" width="1.3" height="37.43"/>
<rect x="814.2" y="263.79" width="13.7" height="1.45"/>
<rect x="814.2" y="256.81" width="13.7" height="1.45"/>
<rect x="814.2" y="249.84" width="13.7" height="1.45"/>
<rect x="814.2" y="242.85" width="13.7" height="1.45"/>
<rect x="814.2" y="235.88" width="13.7" height="1.45"/>
<rect x="814.2" y="228.9" width="13.7" height="1.45"/>
<rect x="814.2" y="221.91" width="13.7" height="1.45"/>
<rect x="814.2" y="214.94" width="13.7" height="1.45"/>
<rect x="814.2" y="207.96" width="13.7" height="1.45"/>
<rect x="814.2" y="200.97" width="13.7" height="1.45"/>
<rect x="814.2" y="194" width="13.7" height="1.45"/>
<rect x="814.2" y="187.02" width="13.7" height="1.45"/>
<rect x="814.2" y="180.03" width="13.7" height="1.45"/>
<rect x="814.2" y="173.06" width="13.7" height="1.45"/>
<rect x="814.2" y="166.08" width="13.7" height="1.45"/>
<rect x="814.2" y="159.09" width="13.7" height="1.45"/>
<rect x="814.2" y="152.11" width="13.7" height="1.45"/>
<ellipse cx="821" cy="149.35" rx="4.7" ry="3.3" transform="rotate(-25 821 149.35)"/>
<rect x="816.15" y="149.85" width="1.3" height="135.15"/>
<rect x="827.7" y="263.79" width="13.7" height="1.45"/>
<rect x="827.7" y="256.81" width="13.7" height="1.45"/>
<rect x="827.7" y="249.84" width="13.7" height="1.45"/>
<rect x="827.7" y="242.85" width="13.7" height="1.45"/>
<rect x="827.7" y="235.88" width="13.7" height="1.45"/>
<rect x="827.7" y="228.9" width="13.7" height="1.45"/>
<rect x="827.7" y="221.91" width="13.7" height="1.45"/>
<rect x="827.7" y="214.94" width="13.7" height="1.45"/>
<ellipse cx="834.5" cy="212.17" rx="4.7" ry="3.3" transform="rotate(-25 834.5 212.17)"/>
<rect x="829.65" y="212.67" width="1.3" height="72.33"/>
<rect x="827.7" y="263.79" width="13.7" height="1.45"/>
<rect x="827.7" y="256.81" width="13.7" height="1.45"/>
<rect x="827.7" y="249.84" width="13.7" height="1.45"/>
<ellipse cx="834.5" cy="250.56" rx="4.7" ry="3.3" transform="rotate(-25 834.5 250.56)"/>
<ellipse cx="84.4" cy="292.5" rx="4.7" ry="3.3" transform="rotate(-25 84.4 292.5)"/>
<rect x="79.55" y="293" width="1.3" height="32"/>
<ellipse cx="93.6" cy="268.01" rx="4.7" ry="3.3" transform="rotate(-25 93.6 268.01)"/>
<rect x="88.75" y="268.51" width="1.3" height="56.49"/>
<ellipse cx="107.6" cy="285.5" rx="4.7" ry="3.3" transform="rotate(-25 107.6 285.5)"/>
<rect x="102.75" y="286" width="1.3" height="30"/>
<ellipse cx="136.4" cy="299.5" rx="4.7" ry="3.3" transform="rotate(-25 136.4 299.5)"/>
<rect x="140.05" y="241" width="1.3" height="58"/>
<circle cx="150.6" cy="296.5" r="1.25"/>
<circle cx="156" cy="296.5" r="1.25"/>
<ellipse cx="183" cy="285.5" rx="4.7" ry="3.3" transform="rotate(-25 183 285.5)"/>
<rect x="178.15" y="286" width="1.3" height="30"/>
<rect x="218.8" y="263.79" width="13.7" height="1.45"/>
<rect x="218.8" y="256.81" width="13.7" height="1.45"/>
<rect x="218.8" y="249.84" width="13.7" height="1.45"/>
<rect x="218.8" y="242.85" width="13.7" height="1.45"/>
<ellipse cx="225.6" cy="240.09" rx="4.7" ry="3.3" transform="rotate(-25 225.6 240.09)"/>
<rect x="220.75" y="240.59" width="1.3" height="44.41"/>
<rect x="212.6" y="231.3" width="1.2" height="19"/>
<rect x="215.7" y="229.8" width="1.2" height="19"/>
<polygon points="211,236 218.9,233.7 218.9,236.3 211,238.6"/>
<polygon points="211,243.6 218.9,241.1 218.9,243.7 211,246.2"/>
<rect x="227.6" y="263.79" width="13.7" height="1.45"/>
<rect x="227.6" y="256.81" width="13.7" height="1.45"/>
<rect x="227.6" y="249.84" width="13.7" height="1.45"/>
<rect x="227.6" y="242.85" width="13.7" height="1.45"/>
<rect x="227.6" y="235.88" width="13.7" height="1.45"/>
<rect x="227.6" y="228.9" width="13.7" height="1.45"/>
<rect x="227.6" y="221.91" width="13.7" height="1.45"/>
<ellipse cx="234.4" cy="222.64" rx="4.7" ry="3.3" transform="rotate(-25 234.4 222.64)"/>
<rect x="229.55" y="223.14" width="1.3" height="64.86"/>
<rect x="227.6" y="263.79" width="13.7" height="1.45"/>
<ellipse cx="234.4" cy="264.52" rx="4.7" ry="3.3" transform="rotate(-25 234.4 264.52)"/>
<rect x="237.2" y="263.79" width="13.7" height="1.45"/>
<rect x="237.2" y="256.81" width="13.7" height="1.45"/>
<rect x="237.2" y="249.84" width="13.7" height="1.45"/>
<rect x="237.2" y="242.85" width="13.7" height="1.45"/>
<rect x="237.2" y="235.88" width="13.7" height="1.45"/>
<ellipse cx="244" cy="233.11" rx="4.7" ry="3.3" transform="rotate(-25 244 233.11)"/>
<rect x="239.15" y="233.61" width="1.3" height="51.39"/>
<rect x="251.2" y="263.79" width="13.7" height="1.45"/>
<rect x="251.2" y="256.81" width="13.7" height="1.45"/>
<rect x="251.2" y="249.84" width="13.7" height="1.45"/>
<rect x="251.2" y="242.85" width="13.7" height="1.45"/>
<rect x="251.2" y="235.88" width="13.7" height="1.45"/>
<rect x="251.2" y="228.9" width="13.7" height="1.45"/>
<rect x="251.2" y="221.91" width="13.7" height="1.45"/>
<rect x="251.2" y="214.94" width="13.7" height="1.45"/>
<ellipse cx="258" cy="212.17" rx="4.7" ry="3.3" transform="rotate(-25 258 212.17)"/>
<rect x="253.15" y="212.67" width="1.3" height="72.33"/>
<rect x="265.2" y="263.79" width="13.7" height="1.45"/>
<ellipse cx="272" cy="261.03" rx="4.7" ry="3.3" transform="rotate(-25 272 261.03)"/>
<rect x="267.15" y="261.53" width="1.3" height="23.47"/>
<ellipse cx="318" cy="268.01" rx="4.7" ry="3.3" transform="rotate(-25 318 268.01)"/>
<rect x="313.15" y="268.51" width="1.3" height="56.49"/>
<ellipse cx="339" cy="299.5" rx="4.7" ry="3.3" transform="rotate(-25 339 299.5)"/>
<rect x="342.65" y="241" width="1.3" height="58"/>
<circle cx="348.6" cy="296.2" r="1.25"/>
<ellipse cx="361" cy="268.01" rx="4.7" ry="3.3" transform="rotate(-25 361 268.01)"/>
<rect x="356.15" y="268.51" width="1.3" height="56.49"/>
<ellipse cx="374.4" cy="292.5" rx="4.7" ry="3.3" transform="rotate(-25 374.4 292.5)"/>
<rect x="369.55" y="293" width="1.3" height="32.7"/>
<ellipse cx="411" cy="271.5" rx="4.7" ry="3.3" transform="rotate(-25 411 271.5)"/>
<rect x="406.15" y="272" width="1.3" height="31"/>
<ellipse cx="411" cy="278.5" rx="4.7" ry="3.3" transform="rotate(-25 411 278.5)"/>
<rect x="393.6" y="269.7" width="1.2" height="19"/>
<rect x="396.7" y="268.2" width="1.2" height="19"/>
<polygon points="392,274.4 399.9,272.1 399.9,274.7 392,277"/>
<polygon points="392,282 399.9,279.5 399.9,282.1 392,284.6"/>
<ellipse cx="432" cy="299.5" rx="4.7" ry="3.3" transform="rotate(-25 432 299.5)"/>
<rect x="435.65" y="241" width="1.3" height="58"/>
<rect x="134.2" y="305.77" width="13.7" height="1.45"/>
<rect x="134.2" y="312.77" width="13.7" height="1.45"/>
<rect x="134.2" y="319.77" width="13.7" height="1.45"/>
<rect x="134.2" y="326.77" width="13.7" height="1.45"/>
<rect x="134.2" y="333.77" width="13.7" height="1.45"/>
<rect x="134.2" y="340.77" width="13.7" height="1.45"/>
<rect x="134.2" y="347.77" width="13.7" height="1.45"/>
<rect x="134.2" y="354.77" width="13.7" height="1.45"/>
<rect x="134.2" y="361.77" width="13.7" height="1.45"/>
<rect x="134.2" y="368.77" width="13.7" height="1.45"/>
<rect x="134.2" y="375.77" width="13.7" height="1.45"/>
<ellipse cx="141" cy="380" rx="4.7" ry="3.3" transform="rotate(-25 141 380)"/>
<rect x="144.65" y="350" width="1.3" height="29.5"/>
<circle cx="150.6" cy="379.6" r="1.25"/>
<rect x="120.7" y="305.77" width="13.7" height="1.45"/>
<rect x="120.7" y="312.77" width="13.7" height="1.45"/>
<rect x="120.7" y="319.77" width="13.7" height="1.45"/>
<rect x="120.7" y="326.77" width="13.7" height="1.45"/>
<rect x="120.7" y="333.77" width="13.7" height="1.45"/>
<rect x="120.7" y="340.77" width="13.7" height="1.45"/>
<rect x="120.7" y="347.77" width="13.7" height="1.45"/>
<rect x="120.7" y="354.77" width="13.7" height="1.45"/>
<rect x="120.7" y="361.77" width="13.7" height="1.45"/>
<rect x="120.7" y="368.77" width="13.7" height="1.45"/>
<rect x="120.7" y="375.77" width="13.7" height="1.45"/>
<rect x="120.7" y="382.77" width="13.7" height="1.45"/>
<rect x="120.7" y="389.77" width="13.7" height="1.45"/>
<rect x="120.7" y="396.77" width="13.7" height="1.45"/>
<rect x="120.7" y="403.77" width="13.7" height="1.45"/>
<rect x="120.7" y="410.77" width="13.7" height="1.45"/>
<rect x="120.7" y="417.77" width="13.7" height="1.45"/>
<rect x="120.7" y="424.77" width="13.7" height="1.45"/>
<rect x="120.7" y="431.77" width="13.7" height="1.45"/>
<rect x="120.7" y="438.77" width="13.7" height="1.45"/>
<rect x="120.7" y="445.77" width="13.7" height="1.45"/>
<rect x="120.7" y="452.77" width="13.7" height="1.45"/>
<ellipse cx="127.5" cy="453.5" rx="4.7" ry="3.3" transform="rotate(-25 127.5 453.5)"/>
<rect x="131.15" y="387.4" width="1.3" height="65.6"/>
<rect x="466.8" y="305.77" width="13.7" height="1.45"/>
<rect x="466.8" y="312.77" width="13.7" height="1.45"/>
<rect x="466.8" y="319.77" width="13.7" height="1.45"/>
<rect x="466.8" y="326.77" width="13.7" height="1.45"/>
<rect x="466.8" y="333.77" width="13.7" height="1.45"/>
<rect x="466.8" y="340.77" width="13.7" height="1.45"/>
<ellipse cx="473.6" cy="345" rx="4.7" ry="3.3" transform="rotate(-25 473.6 345)"/>
<rect x="477.25" y="285" width="1.3" height="59.5"/>
<rect x="480.2" y="305.77" width="13.7" height="1.45"/>
<rect x="480.2" y="312.77" width="13.7" height="1.45"/>
<rect x="480.2" y="319.77" width="13.7" height="1.45"/>
<rect x="480.2" y="326.77" width="13.7" height="1.45"/>
<rect x="480.2" y="333.77" width="13.7" height="1.45"/>
<rect x="480.2" y="340.77" width="13.7" height="1.45"/>
<rect x="480.2" y="347.77" width="13.7" height="1.45"/>
<rect x="480.2" y="354.77" width="13.7" height="1.45"/>
<rect x="480.2" y="361.77" width="13.7" height="1.45"/>
<rect x="480.2" y="368.77" width="13.7" height="1.45"/>
<ellipse cx="487" cy="369.5" rx="4.7" ry="3.3" transform="rotate(-25 487 369.5)"/>
<rect x="490.65" y="285" width="1.3" height="84"/>
<rect x="494.2" y="305.77" width="13.7" height="1.45"/>
<rect x="494.2" y="312.77" width="13.7" height="1.45"/>
<rect x="494.2" y="319.77" width="13.7" height="1.45"/>
<rect x="494.2" y="326.77" width="13.7" height="1.45"/>
<rect x="494.2" y="333.77" width="13.7" height="1.45"/>
<rect x="494.2" y="340.77" width="13.7" height="1.45"/>
<rect x="494.2" y="347.77" width="13.7" height="1.45"/>
<rect x="494.2" y="354.77" width="13.7" height="1.45"/>
<rect x="494.2" y="361.77" width="13.7" height="1.45"/>
<rect x="494.2" y="368.77" width="13.7" height="1.45"/>
<rect x="494.2" y="375.77" width="13.7" height="1.45"/>
<ellipse cx="501" cy="380" rx="4.7" ry="3.3" transform="rotate(-25 501 380)"/>
<rect x="504.65" y="350" width="1.3" height="29.5"/>
<rect x="528.8" y="305.77" width="13.7" height="1.45"/>
<rect x="528.8" y="312.77" width="13.7" height="1.45"/>
<rect x="528.8" y="319.77" width="13.7" height="1.45"/>
<rect x="528.8" y="326.77" width="13.7" height="1.45"/>
<rect x="528.8" y="333.77" width="13.7" height="1.45"/>
<ellipse cx="535.6" cy="338" rx="4.7" ry="3.3" transform="rotate(-25 535.6 338)"/>
<rect x="539.25" y="285" width="1.3" height="52.5"/>
<rect x="608.5" y="305.77" width="13.7" height="1.45"/>
<rect x="608.5" y="312.77" width="13.7" height="1.45"/>
<rect x="608.5" y="319.77" width="13.7" height="1.45"/>
<rect x="608.5" y="326.77" width="13.7" height="1.45"/>
<rect x="608.5" y="333.77" width="13.7" height="1.45"/>
<rect x="608.5" y="340.77" width="13.7" height="1.45"/>
<rect x="608.5" y="347.77" width="13.7" height="1.45"/>
<rect x="608.5" y="354.77" width="13.7" height="1.45"/>
<rect x="608.5" y="361.77" width="13.7" height="1.45"/>
<rect x="608.5" y="368.77" width="13.7" height="1.45"/>
<ellipse cx="615.3" cy="369.5" rx="4.7" ry="3.3" transform="rotate(-25 615.3 369.5)"/>
<rect x="618.95" y="285" width="1.3" height="84"/>
<rect x="702.2" y="305.77" width="13.7" height="1.45"/>
<rect x="702.2" y="312.77" width="13.7" height="1.45"/>
<rect x="702.2" y="319.77" width="13.7" height="1.45"/>
<rect x="702.2" y="326.77" width="13.7" height="1.45"/>
<rect x="702.2" y="333.77" width="13.7" height="1.45"/>
<rect x="702.2" y="340.77" width="13.7" height="1.45"/>
<rect x="702.2" y="347.77" width="13.7" height="1.45"/>
<rect x="702.2" y="354.77" width="13.7" height="1.45"/>
<rect x="702.2" y="361.77" width="13.7" height="1.45"/>
<rect x="702.2" y="368.77" width="13.7" height="1.45"/>
<rect x="702.2" y="375.77" width="13.7" height="1.45"/>
<rect x="702.2" y="382.77" width="13.7" height="1.45"/>
<rect x="702.2" y="389.77" width="13.7" height="1.45"/>
<rect x="702.2" y="396.77" width="13.7" height="1.45"/>
<rect x="702.2" y="403.77" width="13.7" height="1.45"/>
<rect x="702.2" y="410.77" width="13.7" height="1.45"/>
<rect x="702.2" y="417.77" width="13.7" height="1.45"/>
<rect x="702.2" y="424.77" width="13.7" height="1.45"/>
<rect x="702.2" y="431.77" width="13.7" height="1.45"/>
<rect x="702.2" y="438.77" width="13.7" height="1.45"/>
<rect x="702.2" y="445.77" width="13.7" height="1.45"/>
<rect x="702.2" y="452.77" width="13.7" height="1.45"/>
<ellipse cx="709" cy="453.5" rx="4.7" ry="3.3" transform="rotate(-25 709 453.5)"/>
<rect x="712.65" y="387.4" width="1.3" height="65.6"/>
<rect x="744.2" y="305.77" width="13.7" height="1.45"/>
<rect x="744.2" y="312.77" width="13.7" height="1.45"/>
<rect x="744.2" y="319.77" width="13.7" height="1.45"/>
<rect x="744.2" y="326.77" width="13.7" height="1.45"/>
<rect x="744.2" y="333.77" width="13.7" height="1.45"/>
<rect x="744.2" y="340.77" width="13.7" height="1.45"/>
<rect x="744.2" y="347.77" width="13.7" height="1.45"/>
<rect x="744.2" y="354.77" width="13.7" height="1.45"/>
<rect x="744.2" y="361.77" width="13.7" height="1.45"/>
<rect x="744.2" y="368.77" width="13.7" height="1.45"/>
<rect x="744.2" y="375.77" width="13.7" height="1.45"/>
<rect x="744.2" y="382.77" width="13.7" height="1.45"/>
<rect x="744.2" y="389.77" width="13.7" height="1.45"/>
<rect x="744.2" y="396.77" width="13.7" height="1.45"/>
<rect x="744.2" y="403.77" width="13.7" height="1.45"/>
<rect x="744.2" y="410.77" width="13.7" height="1.45"/>
<rect x="744.2" y="417.77" width="13.7" height="1.45"/>
<rect x="744.2" y="424.77" width="13.7" height="1.45"/>
<rect x="744.2" y="431.77" width="13.7" height="1.45"/>
<rect x="744.2" y="438.77" width="13.7" height="1.45"/>
<rect x="744.2" y="445.77" width="13.7" height="1.45"/>
<rect x="744.2" y="452.77" width="13.7" height="1.45"/>
<rect x="744.2" y="459.77" width="13.7" height="1.45"/>
<rect x="744.2" y="466.77" width="13.7" height="1.45"/>
<rect x="744.2" y="473.77" width="13.7" height="1.45"/>
<ellipse cx="751" cy="478" rx="4.7" ry="3.3" transform="rotate(-25 751 478)"/>
<rect x="754.65" y="285" width="1.3" height="192.5"/>
<rect x="758.5" y="305.77" width="13.7" height="1.45"/>
<rect x="758.5" y="312.77" width="13.7" height="1.45"/>
<rect x="758.5" y="319.77" width="13.7" height="1.45"/>
<rect x="758.5" y="326.77" width="13.7" height="1.45"/>
<rect x="758.5" y="333.77" width="13.7" height="1.45"/>
<rect x="758.5" y="340.77" width="13.7" height="1.45"/>
<rect x="758.5" y="347.77" width="13.7" height="1.45"/>
<rect x="758.5" y="354.77" width="13.7" height="1.45"/>
<rect x="758.5" y="361.77" width="13.7" height="1.45"/>
<rect x="758.5" y="368.77" width="13.7" height="1.45"/>
<ellipse cx="765.3" cy="369.5" rx="4.7" ry="3.3" transform="rotate(-25 765.3 369.5)"/>
<rect x="768.95" y="285" width="1.3" height="84"/>
<polygon points="121.1,179.1 367.1,179.1 367.1,182.7 121.1,182.7"/>
<polygon points="332.1,166 367.1,166 367.1,169.5 332.1,169.5"/>
<polygon points="332.1,172.4 367.1,172.4 367.1,175.9 332.1,175.9"/>
<polygon points="358,160.4 367.1,160.4 367.1,163.7 358,163.7"/>
<polygon points="97.9,201 419.3,201 419.3,204.6 97.9,204.6"/>
<polygon points="322.1,189.1 419.3,189.1 419.3,192.7 322.1,192.7"/>
<polygon points="322.1,195.2 419.3,195.2 419.3,198.8 322.1,198.8"/>
<polygon points="411,183 419.3,183 419.3,186.3 411,186.3"/>
<polygon points="112.1,206.8 162,206.8 162,210.3 112.1,210.3"/>
<polygon points="112.1,213.4 162,213.4 162,216.9 112.1,216.9"/>
<polygon points="112.1,220.2 162,220.2 162,223.7 112.1,223.7"/>
<polygon points="140,241 436.6,241 436.6,244.5 140,244.5"/>
<polygon points="140,247.3 436.6,247.3 436.6,250.8 140,250.8"/>
<polygon points="343,252.6 436.6,252.6 436.6,255.2 343,255.2"/>
<polygon points="343,257.2 436.6,257.2 436.6,262.4 343,262.4"/>
<polygon points="89.5,315.4 357,315.4 357,325.7 89.5,325.7"/>
<polygon points="80.5,315.4 89.6,315.4 89.6,319 80.5,319"/>
<polygon points="80.5,322.1 89.6,322.1 89.6,325.7 80.5,325.7"/>
<polygon points="357,315.4 370.8,315.4 370.8,320 357,320"/>
<polygon points="357,322.3 370.8,322.3 370.8,325.7 357,325.7"/>
<polygon points="103.5,308.7 179.2,308.7 179.2,312.3 103.5,312.3"/>
<polygon points="314,307 357,307 357,309.9 314,309.9"/>
<polygon points="314,312.7 357,312.7 357,315.7 314,315.7"/>
<polygon points="349.3,300.6 357,300.6 357,303.6 349.3,303.6"/>
<polygon points="145.1,350 505.6,350 505.6,353.6 145.1,353.6"/>
<polygon points="145.1,356.5 505.6,356.5 505.6,360 145.1,360"/>
<polygon points="131.5,387.2 714.2,387.2 714.2,390.8 131.5,390.8"/>
<polygon points="705.4,393.2 713.8,393.2 713.8,396.7 705.4,396.7"/>
<polygon points="705.4,399.8 713.8,399.8 713.8,403.1 705.4,403.1"/>
<polygon points="705.4,405.6 713.8,405.6 713.8,408.8 705.4,408.8"/>
<polygon points="171,297.4 179.2,297.4 179.2,300 171,300"/>
<polygon points="171,303.6 179.2,303.6 179.2,306.2 171,306.2"/>
<polygon points="362.7,304 370.8,304 370.8,308 362.7,308"/>
<polygon points="362.7,309.3 370.8,309.3 370.8,313.7 362.7,313.7"/>
<path d="M64,100.5 C75.2,93.85 108.8,93.85 120,100.5 C108.8,95.18 75.2,95.18 64,100.5Z"/>
<path d="M64,100.5 C75.2,93.85 108.8,93.85 120,100.5" fill="none" stroke="#000" stroke-width="1.05"/>
<path d="M128,97.5 C152.72,89.52 309.28,89.02 334,97 C309.28,90.35 152.72,90.85 128,97.5Z"/>
<path d="M128,97.5 C152.72,89.52 309.28,89.02 334,97" fill="none" stroke="#000" stroke-width="1.05"/>
<path d="M64,129 C71.4,123.68 93.6,122.68 101,128 C93.6,124.01 71.4,125.01 64,129Z"/>
<path d="M64,129 C71.4,123.68 93.6,122.68 101,128" fill="none" stroke="#000" stroke-width="1.05"/>
<path d="M64,132.5 C72.8,127.18 99.2,127.68 108,133 C99.2,129.01 72.8,128.51 64,132.5Z"/>
<path d="M64,132.5 C72.8,127.18 99.2,127.68 108,133" fill="none" stroke="#000" stroke-width="1.05"/>
<path d="M107,127 C133.16,117.69 298.84,117.69 325,127 C298.84,119.02 133.16,119.02 107,127Z"/>
<path d="M107,127 C133.16,117.69 298.84,117.69 325,127" fill="none" stroke="#000" stroke-width="1.05"/>
<path d="M120,140 C129,133.35 156,134.35 165,141 C156,135.68 129,134.68 120,140Z"/>
<path d="M120,140 C129,133.35 156,134.35 165,141" fill="none" stroke="#000" stroke-width="1.05"/>
<path d="M339,98.5 C345,91.85 363,91.85 369,98.5 C363,93.18 345,93.18 339,98.5Z"/>
<path d="M339,98.5 C345,91.85 363,91.85 369,98.5" fill="none" stroke="#000" stroke-width="1.05"/>
<path d="M329,124.5 C339.99,115.86 409.61,116.36 420.6,125 C409.61,117.69 339.99,117.19 329,124.5Z"/>
<path d="M329,124.5 C339.99,115.86 409.61,116.36 420.6,125" fill="none" stroke="#000" stroke-width="1.05"/>
<path d="M64,265.5 C68.8,259.51 83.2,259.51 88,265.5 C83.2,260.84 68.8,260.84 64,265.5Z"/>
<path d="M64,265.5 C68.8,259.51 83.2,259.51 88,265.5" fill="none" stroke="#000" stroke-width="1.05"/>
<path d="M64,284 C71.6,278.68 94.4,278.68 102,284 C94.4,280.01 71.6,280.01 64,284Z"/>
<path d="M64,284 C71.6,278.68 94.4,278.68 102,284" fill="none" stroke="#000" stroke-width="1.05"/>
<path d="M65,293.5 C67.8,297.49 76.2,297.49 79,293.5 C76.2,296.16 67.8,296.16 65,293.5Z"/>
<path d="M65,293.5 C67.8,297.49 76.2,297.49 79,293.5" fill="none" stroke="#000" stroke-width="1.05"/>
<path d="M64,302.5 C96.64,305.82 303.36,306.32 336,303 C303.36,305 96.64,304.5 64,302.5Z"/>
<path d="M64,302.5 C96.64,305.82 303.36,306.32 336,303" fill="none" stroke="#000" stroke-width="1.05"/>
<path d="M96,265 C121.92,255.69 286.08,254.69 312,264 C286.08,256.02 121.92,257.02 96,265Z"/>
<path d="M96,265 C121.92,255.69 286.08,254.69 312,264" fill="none" stroke="#000" stroke-width="1.05"/>
<path d="M109,282 C117.64,272.69 172.36,272.69 181,282 C172.36,274.02 117.64,274.02 109,282Z"/>
<path d="M109,282 C117.64,272.69 172.36,272.69 181,282" fill="none" stroke="#000" stroke-width="1.05"/>
<path d="M87,297 C116.88,311.63 306.12,315.13 336,300.5 C306.12,313.8 116.88,310.3 87,297Z"/>
<path d="M87,297 C116.88,311.63 306.12,315.13 336,300.5" fill="none" stroke="#000" stroke-width="1.05"/>
<path d="M321,265 C331.2,258.35 361.8,256.35 372,263 C361.8,257.68 331.2,259.68 321,265Z"/>
<path d="M321,265 C331.2,258.35 361.8,256.35 372,263" fill="none" stroke="#000" stroke-width="1.05"/>
<path d="M345,304 C355.32,313.31 420.68,313.31 431,304 C420.68,311.98 355.32,311.98 345,304Z"/>
<path d="M345,304 C355.32,313.31 420.68,313.31 431,304" fill="none" stroke="#000" stroke-width="1.05"/>
<path d="M64,383 C72.4,389.65 125.6,390.25 134,383.6 C125.6,388.92 72.4,388.32 64,383Z"/>
<path d="M64,383 C72.4,389.65 125.6,390.25 134,383.6" fill="none" stroke="#000" stroke-width="1.05"/>
<path d="M148,383.6 C189.76,390.25 454.24,390.25 496,383.6 C454.24,388.92 189.76,388.92 148,383.6Z"/>
<path d="M148,383.6 C189.76,390.25 454.24,390.25 496,383.6" fill="none" stroke="#000" stroke-width="1.05"/>
<path d="M64,456.6 C75.4,463.25 109.6,463.25 121,456.6 C109.6,461.92 75.4,461.92 64,456.6Z"/>
<path d="M64,456.6 C75.4,463.25 109.6,463.25 121,456.6" fill="none" stroke="#000" stroke-width="1.05"/>
<path d="M129,458 C198.48,465.98 638.52,465.98 708,458 C638.52,464.65 198.48,464.65 129,458Z"/>
<path d="M129,458 C198.48,465.98 638.52,465.98 708,458" fill="none" stroke="#000" stroke-width="1.05"/>
<path transform="translate(168.5,463.5) scale(1)" d="M1.7,0.3 C2.8,0.2 3.5,1.5 4.1,2.2 L7.4,5.8 C6.4,7.2 4.4,8.4 3.9,10.2 C4.0,11.6 5.8,13.8 6.8,15.2 C6.6,15.8 6.0,16.0 5.6,15.4 C4.8,14.6 3.0,14.4 2.4,15.0 C1.8,15.8 2.4,18.0 2.6,19.4 C2.4,19.9 1.8,19.9 1.6,19.4 C1.0,18.0 -0.2,16.0 -0.1,14.4 C0.2,13.0 1.8,12.6 3.4,13.2 C2.6,11.6 1.2,10.2 0.5,8.6 C1.8,7.4 3.6,6.4 3.8,4.6 C3.8,3.0 2.8,1.6 1.7,0.3 Z"/>
<path transform="translate(188.5,463.5) scale(1)" d="M1.7,0.3 C2.8,0.2 3.5,1.5 4.1,2.2 L7.4,5.8 C6.4,7.2 4.4,8.4 3.9,10.2 C4.0,11.6 5.8,13.8 6.8,15.2 C6.6,15.8 6.0,16.0 5.6,15.4 C4.8,14.6 3.0,14.4 2.4,15.0 C1.8,15.8 2.4,18.0 2.6,19.4 C2.4,19.9 1.8,19.9 1.6,19.4 C1.0,18.0 -0.2,16.0 -0.1,14.4 C0.2,13.0 1.8,12.6 3.4,13.2 C2.6,11.6 1.2,10.2 0.5,8.6 C1.8,7.4 3.6,6.4 3.8,4.6 C3.8,3.0 2.8,1.6 1.7,0.3 Z"/>
<path transform="translate(269.5,463.5) scale(1)" d="M1.7,0.3 C2.8,0.2 3.5,1.5 4.1,2.2 L7.4,5.8 C6.4,7.2 4.4,8.4 3.9,10.2 C4.0,11.6 5.8,13.8 6.8,15.2 C6.6,15.8 6.0,16.0 5.6,15.4 C4.8,14.6 3.0,14.4 2.4,15.0 C1.8,15.8 2.4,18.0 2.6,19.4 C2.4,19.9 1.8,19.9 1.6,19.4 C1.0,18.0 -0.2,16.0 -0.1,14.4 C0.2,13.0 1.8,12.6 3.4,13.2 C2.6,11.6 1.2,10.2 0.5,8.6 C1.8,7.4 3.6,6.4 3.8,4.6 C3.8,3.0 2.8,1.6 1.7,0.3 Z"/>
<path transform="translate(278,463.5) scale(1)" d="M1.7,0.3 C2.8,0.2 3.5,1.5 4.1,2.2 L7.4,5.8 C6.4,7.2 4.4,8.4 3.9,10.2 C4.0,11.6 5.8,13.8 6.8,15.2 C6.6,15.8 6.0,16.0 5.6,15.4 C4.8,14.6 3.0,14.4 2.4,15.0 C1.8,15.8 2.4,18.0 2.6,19.4 C2.4,19.9 1.8,19.9 1.6,19.4 C1.0,18.0 -0.2,16.0 -0.1,14.4 C0.2,13.0 1.8,12.6 3.4,13.2 C2.6,11.6 1.2,10.2 0.5,8.6 C1.8,7.4 3.6,6.4 3.8,4.6 C3.8,3.0 2.8,1.6 1.7,0.3 Z"/>
<path transform="translate(286.5,463.5) scale(1)" d="M1.7,0.3 C2.8,0.2 3.5,1.5 4.1,2.2 L7.4,5.8 C6.4,7.2 4.4,8.4 3.9,10.2 C4.0,11.6 5.8,13.8 6.8,15.2 C6.6,15.8 6.0,16.0 5.6,15.4 C4.8,14.6 3.0,14.4 2.4,15.0 C1.8,15.8 2.4,18.0 2.6,19.4 C2.4,19.9 1.8,19.9 1.6,19.4 C1.0,18.0 -0.2,16.0 -0.1,14.4 C0.2,13.0 1.8,12.6 3.4,13.2 C2.6,11.6 1.2,10.2 0.5,8.6 C1.8,7.4 3.6,6.4 3.8,4.6 C3.8,3.0 2.8,1.6 1.7,0.3 Z"/>
<path transform="translate(295,463.5) scale(1)" d="M1.7,0.3 C2.8,0.2 3.5,1.5 4.1,2.2 L7.4,5.8 C6.4,7.2 4.4,8.4 3.9,10.2 C4.0,11.6 5.8,13.8 6.8,15.2 C6.6,15.8 6.0,16.0 5.6,15.4 C4.8,14.6 3.0,14.4 2.4,15.0 C1.8,15.8 2.4,18.0 2.6,19.4 C2.4,19.9 1.8,19.9 1.6,19.4 C1.0,18.0 -0.2,16.0 -0.1,14.4 C0.2,13.0 1.8,12.6 3.4,13.2 C2.6,11.6 1.2,10.2 0.5,8.6 C1.8,7.4 3.6,6.4 3.8,4.6 C3.8,3.0 2.8,1.6 1.7,0.3 Z"/>
<path transform="translate(303.5,463.5) scale(1)" d="M1.7,0.3 C2.8,0.2 3.5,1.5 4.1,2.2 L7.4,5.8 C6.4,7.2 4.4,8.4 3.9,10.2 C4.0,11.6 5.8,13.8 6.8,15.2 C6.6,15.8 6.0,16.0 5.6,15.4 C4.8,14.6 3.0,14.4 2.4,15.0 C1.8,15.8 2.4,18.0 2.6,19.4 C2.4,19.9 1.8,19.9 1.6,19.4 C1.0,18.0 -0.2,16.0 -0.1,14.4 C0.2,13.0 1.8,12.6 3.4,13.2 C2.6,11.6 1.2,10.2 0.5,8.6 C1.8,7.4 3.6,6.4 3.8,4.6 C3.8,3.0 2.8,1.6 1.7,0.3 Z"/>
<path transform="translate(402.5,463.5) scale(1)" d="M1.7,0.3 C2.8,0.2 3.5,1.5 4.1,2.2 L7.4,5.8 C6.4,7.2 4.4,8.4 3.9,10.2 C4.0,11.6 5.8,13.8 6.8,15.2 C6.6,15.8 6.0,16.0 5.6,15.4 C4.8,14.6 3.0,14.4 2.4,15.0 C1.8,15.8 2.4,18.0 2.6,19.4 C2.4,19.9 1.8,19.9 1.6,19.4 C1.0,18.0 -0.2,16.0 -0.1,14.4 C0.2,13.0 1.8,12.6 3.4,13.2 C2.6,11.6 1.2,10.2 0.5,8.6 C1.8,7.4 3.6,6.4 3.8,4.6 C3.8,3.0 2.8,1.6 1.7,0.3 Z"/>
<path transform="translate(439,463.5) scale(1)" d="M1.7,0.3 C2.8,0.2 3.5,1.5 4.1,2.2 L7.4,5.8 C6.4,7.2 4.4,8.4 3.9,10.2 C4.0,11.6 5.8,13.8 6.8,15.2 C6.6,15.8 6.0,16.0 5.6,15.4 C4.8,14.6 3.0,14.4 2.4,15.0 C1.8,15.8 2.4,18.0 2.6,19.4 C2.4,19.9 1.8,19.9 1.6,19.4 C1.0,18.0 -0.2,16.0 -0.1,14.4 C0.2,13.0 1.8,12.6 3.4,13.2 C2.6,11.6 1.2,10.2 0.5,8.6 C1.8,7.4 3.6,6.4 3.8,4.6 C3.8,3.0 2.8,1.6 1.7,0.3 Z"/>
<path transform="translate(508,463.5) scale(1)" d="M1.7,0.3 C2.8,0.2 3.5,1.5 4.1,2.2 L7.4,5.8 C6.4,7.2 4.4,8.4 3.9,10.2 C4.0,11.6 5.8,13.8 6.8,15.2 C6.6,15.8 6.0,16.0 5.6,15.4 C4.8,14.6 3.0,14.4 2.4,15.0 C1.8,15.8 2.4,18.0 2.6,19.4 C2.4,19.9 1.8,19.9 1.6,19.4 C1.0,18.0 -0.2,16.0 -0.1,14.4 C0.2,13.0 1.8,12.6 3.4,13.2 C2.6,11.6 1.2,10.2 0.5,8.6 C1.8,7.4 3.6,6.4 3.8,4.6 C3.8,3.0 2.8,1.6 1.7,0.3 Z"/>
<path transform="translate(531,463.5) scale(1)" d="M1.7,0.3 C2.8,0.2 3.5,1.5 4.1,2.2 L7.4,5.8 C6.4,7.2 4.4,8.4 3.9,10.2 C4.0,11.6 5.8,13.8 6.8,15.2 C6.6,15.8 6.0,16.0 5.6,15.4 C4.8,14.6 3.0,14.4 2.4,15.0 C1.8,15.8 2.4,18.0 2.6,19.4 C2.4,19.9 1.8,19.9 1.6,19.4 C1.0,18.0 -0.2,16.0 -0.1,14.4 C0.2,13.0 1.8,12.6 3.4,13.2 C2.6,11.6 1.2,10.2 0.5,8.6 C1.8,7.4 3.6,6.4 3.8,4.6 C3.8,3.0 2.8,1.6 1.7,0.3 Z"/>
<path transform="translate(547.5,463.5) scale(1)" d="M1.7,0.3 C2.8,0.2 3.5,1.5 4.1,2.2 L7.4,5.8 C6.4,7.2 4.4,8.4 3.9,10.2 C4.0,11.6 5.8,13.8 6.8,15.2 C6.6,15.8 6.0,16.0 5.6,15.4 C4.8,14.6 3.0,14.4 2.4,15.0 C1.8,15.8 2.4,18.0 2.6,19.4 C2.4,19.9 1.8,19.9 1.6,19.4 C1.0,18.0 -0.2,16.0 -0.1,14.4 C0.2,13.0 1.8,12.6 3.4,13.2 C2.6,11.6 1.2,10.2 0.5,8.6 C1.8,7.4 3.6,6.4 3.8,4.6 C3.8,3.0 2.8,1.6 1.7,0.3 Z"/>
<path transform="translate(556.5,463.5) scale(1)" d="M1.7,0.3 C2.8,0.2 3.5,1.5 4.1,2.2 L7.4,5.8 C6.4,7.2 4.4,8.4 3.9,10.2 C4.0,11.6 5.8,13.8 6.8,15.2 C6.6,15.8 6.0,16.0 5.6,15.4 C4.8,14.6 3.0,14.4 2.4,15.0 C1.8,15.8 2.4,18.0 2.6,19.4 C2.4,19.9 1.8,19.9 1.6,19.4 C1.0,18.0 -0.2,16.0 -0.1,14.4 C0.2,13.0 1.8,12.6 3.4,13.2 C2.6,11.6 1.2,10.2 0.5,8.6 C1.8,7.4 3.6,6.4 3.8,4.6 C3.8,3.0 2.8,1.6 1.7,0.3 Z"/>
<path transform="translate(580,463.5) scale(1)" d="M1.7,0.3 C2.8,0.2 3.5,1.5 4.1,2.2 L7.4,5.8 C6.4,7.2 4.4,8.4 3.9,10.2 C4.0,11.6 5.8,13.8 6.8,15.2 C6.6,15.8 6.0,16.0 5.6,15.4 C4.8,14.6 3.0,14.4 2.4,15.0 C1.8,15.8 2.4,18.0 2.6,19.4 C2.4,19.9 1.8,19.9 1.6,19.4 C1.0,18.0 -0.2,16.0 -0.1,14.4 C0.2,13.0 1.8,12.6 3.4,13.2 C2.6,11.6 1.2,10.2 0.5,8.6 C1.8,7.4 3.6,6.4 3.8,4.6 C3.8,3.0 2.8,1.6 1.7,0.3 Z"/>
<path transform="translate(589,463.5) scale(1)" d="M1.7,0.3 C2.8,0.2 3.5,1.5 4.1,2.2 L7.4,5.8 C6.4,7.2 4.4,8.4 3.9,10.2 C4.0,11.6 5.8,13.8 6.8,15.2 C6.6,15.8 6.0,16.0 5.6,15.4 C4.8,14.6 3.0,14.4 2.4,15.0 C1.8,15.8 2.4,18.0 2.6,19.4 C2.4,19.9 1.8,19.9 1.6,19.4 C1.0,18.0 -0.2,16.0 -0.1,14.4 C0.2,13.0 1.8,12.6 3.4,13.2 C2.6,11.6 1.2,10.2 0.5,8.6 C1.8,7.4 3.6,6.4 3.8,4.6 C3.8,3.0 2.8,1.6 1.7,0.3 Z"/>
<path transform="translate(621,463.5) scale(1)" d="M1.7,0.3 C2.8,0.2 3.5,1.5 4.1,2.2 L7.4,5.8 C6.4,7.2 4.4,8.4 3.9,10.2 C4.0,11.6 5.8,13.8 6.8,15.2 C6.6,15.8 6.0,16.0 5.6,15.4 C4.8,14.6 3.0,14.4 2.4,15.0 C1.8,15.8 2.4,18.0 2.6,19.4 C2.4,19.9 1.8,19.9 1.6,19.4 C1.0,18.0 -0.2,16.0 -0.1,14.4 C0.2,13.0 1.8,12.6 3.4,13.2 C2.6,11.6 1.2,10.2 0.5,8.6 C1.8,7.4 3.6,6.4 3.8,4.6 C3.8,3.0 2.8,1.6 1.7,0.3 Z"/>
<path transform="translate(630.5,463.5) scale(1)" d="M1.7,0.3 C2.8,0.2 3.5,1.5 4.1,2.2 L7.4,5.8 C6.4,7.2 4.4,8.4 3.9,10.2 C4.0,11.6 5.8,13.8 6.8,15.2 C6.6,15.8 6.0,16.0 5.6,15.4 C4.8,14.6 3.0,14.4 2.4,15.0 C1.8,15.8 2.4,18.0 2.6,19.4 C2.4,19.9 1.8,19.9 1.6,19.4 C1.0,18.0 -0.2,16.0 -0.1,14.4 C0.2,13.0 1.8,12.6 3.4,13.2 C2.6,11.6 1.2,10.2 0.5,8.6 C1.8,7.4 3.6,6.4 3.8,4.6 C3.8,3.0 2.8,1.6 1.7,0.3 Z"/>
<path transform="translate(640,463.5) scale(1)" d="M1.7,0.3 C2.8,0.2 3.5,1.5 4.1,2.2 L7.4,5.8 C6.4,7.2 4.4,8.4 3.9,10.2 C4.0,11.6 5.8,13.8 6.8,15.2 C6.6,15.8 6.0,16.0 5.6,15.4 C4.8,14.6 3.0,14.4 2.4,15.0 C1.8,15.8 2.4,18.0 2.6,19.4 C2.4,19.9 1.8,19.9 1.6,19.4 C1.0,18.0 -0.2,16.0 -0.1,14.4 C0.2,13.0 1.8,12.6 3.4,13.2 C2.6,11.6 1.2,10.2 0.5,8.6 C1.8,7.4 3.6,6.4 3.8,4.6 C3.8,3.0 2.8,1.6 1.7,0.3 Z"/>
<path transform="translate(649,463.5) scale(1)" d="M1.7,0.3 C2.8,0.2 3.5,1.5 4.1,2.2 L7.4,5.8 C6.4,7.2 4.4,8.4 3.9,10.2 C4.0,11.6 5.8,13.8 6.8,15.2 C6.6,15.8 6.0,16.0 5.6,15.4 C4.8,14.6 3.0,14.4 2.4,15.0 C1.8,15.8 2.4,18.0 2.6,19.4 C2.4,19.9 1.8,19.9 1.6,19.4 C1.0,18.0 -0.2,16.0 -0.1,14.4 C0.2,13.0 1.8,12.6 3.4,13.2 C2.6,11.6 1.2,10.2 0.5,8.6 C1.8,7.4 3.6,6.4 3.8,4.6 C3.8,3.0 2.8,1.6 1.7,0.3 Z"/>
<path transform="translate(669,463.5) scale(1)" d="M1.7,0.3 C2.8,0.2 3.5,1.5 4.1,2.2 L7.4,5.8 C6.4,7.2 4.4,8.4 3.9,10.2 C4.0,11.6 5.8,13.8 6.8,15.2 C6.6,15.8 6.0,16.0 5.6,15.4 C4.8,14.6 3.0,14.4 2.4,15.0 C1.8,15.8 2.4,18.0 2.6,19.4 C2.4,19.9 1.8,19.9 1.6,19.4 C1.0,18.0 -0.2,16.0 -0.1,14.4 C0.2,13.0 1.8,12.6 3.4,13.2 C2.6,11.6 1.2,10.2 0.5,8.6 C1.8,7.4 3.6,6.4 3.8,4.6 C3.8,3.0 2.8,1.6 1.7,0.3 Z"/>
<path transform="translate(677.5,463.5) scale(1)" d="M1.7,0.3 C2.8,0.2 3.5,1.5 4.1,2.2 L7.4,5.8 C6.4,7.2 4.4,8.4 3.9,10.2 C4.0,11.6 5.8,13.8 6.8,15.2 C6.6,15.8 6.0,16.0 5.6,15.4 C4.8,14.6 3.0,14.4 2.4,15.0 C1.8,15.8 2.4,18.0 2.6,19.4 C2.4,19.9 1.8,19.9 1.6,19.4 C1.0,18.0 -0.2,16.0 -0.1,14.4 C0.2,13.0 1.8,12.6 3.4,13.2 C2.6,11.6 1.2,10.2 0.5,8.6 C1.8,7.4 3.6,6.4 3.8,4.6 C3.8,3.0 2.8,1.6 1.7,0.3 Z"/>
<path transform="translate(729.5,380.5) scale(1)" d="M1.7,0.3 C2.8,0.2 3.5,1.5 4.1,2.2 L7.4,5.8 C6.4,7.2 4.4,8.4 3.9,10.2 C4.0,11.6 5.8,13.8 6.8,15.2 C6.6,15.8 6.0,16.0 5.6,15.4 C4.8,14.6 3.0,14.4 2.4,15.0 C1.8,15.8 2.4,18.0 2.6,19.4 C2.4,19.9 1.8,19.9 1.6,19.4 C1.0,18.0 -0.2,16.0 -0.1,14.4 C0.2,13.0 1.8,12.6 3.4,13.2 C2.6,11.6 1.2,10.2 0.5,8.6 C1.8,7.4 3.6,6.4 3.8,4.6 C3.8,3.0 2.8,1.6 1.7,0.3 Z"/>
<path transform="translate(743,488.5) scale(1)" d="M1.7,0.3 C2.8,0.2 3.5,1.5 4.1,2.2 L7.4,5.8 C6.4,7.2 4.4,8.4 3.9,10.2 C4.0,11.6 5.8,13.8 6.8,15.2 C6.6,15.8 6.0,16.0 5.6,15.4 C4.8,14.6 3.0,14.4 2.4,15.0 C1.8,15.8 2.4,18.0 2.6,19.4 C2.4,19.9 1.8,19.9 1.6,19.4 C1.0,18.0 -0.2,16.0 -0.1,14.4 C0.2,13.0 1.8,12.6 3.4,13.2 C2.6,11.6 1.2,10.2 0.5,8.6 C1.8,7.4 3.6,6.4 3.8,4.6 C3.8,3.0 2.8,1.6 1.7,0.3 Z"/>
<path transform="translate(771,488.5) scale(1)" d="M1.7,0.3 C2.8,0.2 3.5,1.5 4.1,2.2 L7.4,5.8 C6.4,7.2 4.4,8.4 3.9,10.2 C4.0,11.6 5.8,13.8 6.8,15.2 C6.6,15.8 6.0,16.0 5.6,15.4 C4.8,14.6 3.0,14.4 2.4,15.0 C1.8,15.8 2.4,18.0 2.6,19.4 C2.4,19.9 1.8,19.9 1.6,19.4 C1.0,18.0 -0.2,16.0 -0.1,14.4 C0.2,13.0 1.8,12.6 3.4,13.2 C2.6,11.6 1.2,10.2 0.5,8.6 C1.8,7.4 3.6,6.4 3.8,4.6 C3.8,3.0 2.8,1.6 1.7,0.3 Z"/>
<path transform="translate(779.5,488.5) scale(1)" d="M1.7,0.3 C2.8,0.2 3.5,1.5 4.1,2.2 L7.4,5.8 C6.4,7.2 4.4,8.4 3.9,10.2 C4.0,11.6 5.8,13.8 6.8,15.2 C6.6,15.8 6.0,16.0 5.6,15.4 C4.8,14.6 3.0,14.4 2.4,15.0 C1.8,15.8 2.4,18.0 2.6,19.4 C2.4,19.9 1.8,19.9 1.6,19.4 C1.0,18.0 -0.2,16.0 -0.1,14.4 C0.2,13.0 1.8,12.6 3.4,13.2 C2.6,11.6 1.2,10.2 0.5,8.6 C1.8,7.4 3.6,6.4 3.8,4.6 C3.8,3.0 2.8,1.6 1.7,0.3 Z"/>
<path transform="translate(816,488.5) scale(1)" d="M1.7,0.3 C2.8,0.2 3.5,1.5 4.1,2.2 L7.4,5.8 C6.4,7.2 4.4,8.4 3.9,10.2 C4.0,11.6 5.8,13.8 6.8,15.2 C6.6,15.8 6.0,16.0 5.6,15.4 C4.8,14.6 3.0,14.4 2.4,15.0 C1.8,15.8 2.4,18.0 2.6,19.4 C2.4,19.9 1.8,19.9 1.6,19.4 C1.0,18.0 -0.2,16.0 -0.1,14.4 C0.2,13.0 1.8,12.6 3.4,13.2 C2.6,11.6 1.2,10.2 0.5,8.6 C1.8,7.4 3.6,6.4 3.8,4.6 C3.8,3.0 2.8,1.6 1.7,0.3 Z"/>
<rect x="76" y="463.2" width="19" height="1.7"/>
<rect x="80.2" y="464.8" width="10.7" height="3.9"/>
<line x1="88.3" y1="468.4" x2="81.69" y2="498.4" stroke="#000" stroke-width="1.2" stroke-linecap="round"/>
<circle cx="82.27" cy="473.6" r="1.95"/>
<path d="M82.77,475.2 L87.17,475.1" stroke="#000" stroke-width="1.0" fill="none"/>
<circle cx="80.68" cy="480.8" r="1.95"/>
<path d="M81.18,482.4 L85.58,482.3" stroke="#000" stroke-width="1.0" fill="none"/>
<circle cx="79.09" cy="488" r="1.95"/>
<path d="M79.59,489.6 L83.99,489.5" stroke="#000" stroke-width="1.0" fill="none"/>
<polygon points="82,468.2 88.3,468.2 87.1,472.4 84,471.4"/>
<line x1="207.5" y1="466.4" x2="200.4" y2="498.6" stroke="#000" stroke-width="1.15" stroke-linecap="round"/>
<circle cx="202.46" cy="467.1" r="1.95"/>
<path d="M202.96,468.7 L207.36,468.6" stroke="#000" stroke-width="1.0" fill="none"/>
<circle cx="200.9" cy="474.15" r="1.95"/>
<path d="M201.4,475.75 L205.8,475.65" stroke="#000" stroke-width="1.0" fill="none"/>
<circle cx="199.35" cy="481.2" r="1.95"/>
<path d="M199.85,482.8 L204.25,482.7" stroke="#000" stroke-width="1.0" fill="none"/>
<circle cx="197.8" cy="488.25" r="1.95"/>
<path d="M198.3,489.85 L202.7,489.75" stroke="#000" stroke-width="1.0" fill="none"/>
<line x1="219.4" y1="466.4" x2="212.3" y2="498.6" stroke="#000" stroke-width="1.15" stroke-linecap="round"/>
<circle cx="214.36" cy="467.1" r="1.95"/>
<path d="M214.86,468.7 L219.26,468.6" stroke="#000" stroke-width="1.0" fill="none"/>
<circle cx="212.8" cy="474.15" r="1.95"/>
<path d="M213.3,475.75 L217.7,475.65" stroke="#000" stroke-width="1.0" fill="none"/>
<circle cx="211.25" cy="481.2" r="1.95"/>
<path d="M211.75,482.8 L216.15,482.7" stroke="#000" stroke-width="1.0" fill="none"/>
<circle cx="209.7" cy="488.25" r="1.95"/>
<path d="M210.2,489.85 L214.6,489.75" stroke="#000" stroke-width="1.0" fill="none"/>
<circle cx="150.6" cy="450" r="1.25"/>
<circle cx="150.6" cy="467" r="1.25"/>
<circle cx="156" cy="467" r="1.25"/>
<rect x="40" y="875.38" width="795" height="1.1" fill="#1e1e1e"/>
<rect x="40" y="882.38" width="795" height="1.1" fill="#1e1e1e"/>
<rect x="40" y="889.38" width="795" height="1.1" fill="#1e1e1e"/>
<rect x="40" y="896.38" width="795" height="1.1" fill="#1e1e1e"/>
<rect x="40" y="903.38" width="795" height="1.1" fill="#1e1e1e"/>
<g transform="translate(0,604.43)" fill="none" stroke="#000" stroke-linecap="round"><path d="M54.6,260.2 C58.6,262.5 59.0,268.5 57.0,272.5 C54.5,277.5 47.0,281.5 46.2,288.5 C45.6,295 50.5,299.8 55,299.6 C60,299.4 63,295.5 62.5,291.5 C62,287.5 58.5,285.8 55.5,286.2 C52,286.8 50.8,290.5 52.8,293.2" stroke-width="1.3"/><path d="M56.0,275.0 C52.5,279.0 47.4,282.5 46.6,288.5 C46.2,292.0 47.0,294.5 48.5,296.2" stroke-width="2.6"/><path d="M61.8,295.0 C62.8,292.5 62.4,290.0 61.0,288.2" stroke-width="2.0"/><path d="M54.6,260.2 C51.5,262.5 50.3,267 51.0,271 C51.5,274 53.5,276 55,277" stroke-width="2.0"/><path d="M54.7,262 L55.6,285 L57.5,300.5 C58.1,306 56.2,310.6 52.8,310.4 C50.2,310.2 48.6,308.8 48.5,307" stroke-width="1.25"/></g>
<circle cx="49.9" cy="909.73" r="2.6"/>
<text x="39.3" y="868.6" font-size="14" text-anchor="end" stroke="none">107</text>
<rect x="109.8" y="868.22" width="13.7" height="1.45"/>
<rect x="109.8" y="861.24" width="13.7" height="1.45"/>
<rect x="109.8" y="854.26" width="13.7" height="1.45"/>
<rect x="109.8" y="847.28" width="13.7" height="1.45"/>
<rect x="109.8" y="840.3" width="13.7" height="1.45"/>
<rect x="109.8" y="833.32" width="13.7" height="1.45"/>
<rect x="109.8" y="826.34" width="13.7" height="1.45"/>
<rect x="109.8" y="819.36" width="13.7" height="1.45"/>
<rect x="109.8" y="812.38" width="13.7" height="1.45"/>
<rect x="109.8" y="805.4" width="13.7" height="1.45"/>
<rect x="109.8" y="798.42" width="13.7" height="1.45"/>
<rect x="109.8" y="791.44" width="13.7" height="1.45"/>
<rect x="109.8" y="784.46" width="13.7" height="1.45"/>
<rect x="109.8" y="777.48" width="13.7" height="1.45"/>
<rect x="109.8" y="770.5" width="13.7" height="1.45"/>
<rect x="109.8" y="763.52" width="13.7" height="1.45"/>
<rect x="109.8" y="756.54" width="13.7" height="1.45"/>
<rect x="109.8" y="749.56" width="13.7" height="1.45"/>
<rect x="109.8" y="742.58" width="13.7" height="1.45"/>
<rect x="109.8" y="735.6" width="13.7" height="1.45"/>
<rect x="109.8" y="728.62" width="13.7" height="1.45"/>
<rect x="109.8" y="721.64" width="13.7" height="1.45"/>
<rect x="109.8" y="714.66" width="13.7" height="1.45"/>
<rect x="109.8" y="707.68" width="13.7" height="1.45"/>
<rect x="109.8" y="700.7" width="13.7" height="1.45"/>
<rect x="109.8" y="693.72" width="13.7" height="1.45"/>
<rect x="109.8" y="686.74" width="13.7" height="1.45"/>
<ellipse cx="116.6" cy="687.47" rx="4.7" ry="3.3" transform="rotate(-25 116.6 687.47)"/>
<rect x="111.75" y="687.97" width="1.3" height="34.63"/>
<circle cx="127.6" cy="684" r="1.25"/>
<rect x="100.6" y="868.22" width="13.7" height="1.45"/>
<rect x="100.6" y="861.24" width="13.7" height="1.45"/>
<rect x="100.6" y="854.26" width="13.7" height="1.45"/>
<rect x="100.6" y="847.28" width="13.7" height="1.45"/>
<rect x="100.6" y="840.3" width="13.7" height="1.45"/>
<rect x="100.6" y="833.32" width="13.7" height="1.45"/>
<rect x="100.6" y="826.34" width="13.7" height="1.45"/>
<rect x="100.6" y="819.36" width="13.7" height="1.45"/>
<rect x="100.6" y="812.38" width="13.7" height="1.45"/>
<rect x="100.6" y="805.4" width="13.7" height="1.45"/>
<rect x="100.6" y="798.42" width="13.7" height="1.45"/>
<rect x="100.6" y="791.44" width="13.7" height="1.45"/>
<rect x="100.6" y="784.46" width="13.7" height="1.45"/>
<rect x="100.6" y="777.48" width="13.7" height="1.45"/>
<rect x="100.6" y="770.5" width="13.7" height="1.45"/>
<rect x="100.6" y="763.52" width="13.7" height="1.45"/>
<rect x="100.6" y="756.54" width="13.7" height="1.45"/>
<ellipse cx="107.4" cy="753.78" rx="4.7" ry="3.3" transform="rotate(-25 107.4 753.78)"/>
<rect x="102.55" y="754.28" width="1.3" height="68.12"/>
<rect x="94.6" y="744.8" width="1.2" height="19"/>
<rect x="97.7" y="743.3" width="1.2" height="19"/>
<polygon points="93,749.5 100.9,747.2 100.9,749.8 93,752.1"/>
<polygon points="93,757.1 100.9,754.6 100.9,757.2 93,759.7"/>
<circle cx="127.6" cy="753.6" r="1.25"/>
<rect x="202.8" y="868.22" width="13.7" height="1.45"/>
<rect x="202.8" y="861.24" width="13.7" height="1.45"/>
<rect x="202.8" y="854.26" width="13.7" height="1.45"/>
<rect x="202.8" y="847.28" width="13.7" height="1.45"/>
<rect x="202.8" y="840.3" width="13.7" height="1.45"/>
<rect x="202.8" y="833.32" width="13.7" height="1.45"/>
<rect x="202.8" y="826.34" width="13.7" height="1.45"/>
<rect x="202.8" y="819.36" width="13.7" height="1.45"/>
<rect x="202.8" y="812.38" width="13.7" height="1.45"/>
<rect x="202.8" y="805.4" width="13.7" height="1.45"/>
<rect x="202.8" y="798.42" width="13.7" height="1.45"/>
<rect x="202.8" y="791.44" width="13.7" height="1.45"/>
<rect x="202.8" y="784.46" width="13.7" height="1.45"/>
<rect x="202.8" y="777.48" width="13.7" height="1.45"/>
<rect x="202.8" y="770.5" width="13.7" height="1.45"/>
<rect x="202.8" y="763.52" width="13.7" height="1.45"/>
<rect x="202.8" y="756.54" width="13.7" height="1.45"/>
<rect x="202.8" y="749.56" width="13.7" height="1.45"/>
<rect x="202.8" y="742.58" width="13.7" height="1.45"/>
<rect x="202.8" y="735.6" width="13.7" height="1.45"/>
<ellipse cx="209.6" cy="736.33" rx="4.7" ry="3.3" transform="rotate(-25 209.6 736.33)"/>
<rect x="204.75" y="736.83" width="1.3" height="153.07"/>
<rect x="196" y="727.35" width="1.2" height="19"/>
<rect x="199.1" y="725.85" width="1.2" height="19"/>
<polygon points="194.4,732.05 202.3,729.75 202.3,732.35 194.4,734.65"/>
<polygon points="194.4,739.65 202.3,737.15 202.3,739.75 194.4,742.25"/>
<rect x="215.8" y="868.22" width="13.7" height="1.45"/>
<rect x="215.8" y="861.24" width="13.7" height="1.45"/>
<rect x="215.8" y="854.26" width="13.7" height="1.45"/>
<rect x="215.8" y="847.28" width="13.7" height="1.45"/>
<rect x="215.8" y="840.3" width="13.7" height="1.45"/>
<rect x="215.8" y="833.32" width="13.7" height="1.45"/>
<rect x="215.8" y="826.34" width="13.7" height="1.45"/>
<rect x="215.8" y="819.36" width="13.7" height="1.45"/>
<rect x="215.8" y="812.38" width="13.7" height="1.45"/>
<rect x="215.8" y="805.4" width="13.7" height="1.45"/>
<rect x="215.8" y="798.42" width="13.7" height="1.45"/>
<rect x="215.8" y="791.44" width="13.7" height="1.45"/>
<rect x="215.8" y="784.46" width="13.7" height="1.45"/>
<rect x="215.8" y="777.48" width="13.7" height="1.45"/>
<rect x="215.8" y="770.5" width="13.7" height="1.45"/>
<rect x="215.8" y="763.52" width="13.7" height="1.45"/>
<rect x="215.8" y="756.54" width="13.7" height="1.45"/>
<rect x="215.8" y="749.56" width="13.7" height="1.45"/>
<rect x="215.8" y="742.58" width="13.7" height="1.45"/>
<rect x="215.8" y="735.6" width="13.7" height="1.45"/>
<rect x="215.8" y="728.62" width="13.7" height="1.45"/>
<rect x="215.8" y="721.64" width="13.7" height="1.45"/>
<rect x="215.8" y="714.66" width="13.7" height="1.45"/>
<rect x="215.8" y="707.68" width="13.7" height="1.45"/>
<rect x="215.8" y="700.7" width="13.7" height="1.45"/>
<rect x="215.8" y="693.72" width="13.7" height="1.45"/>
<rect x="215.8" y="686.74" width="13.7" height="1.45"/>
<ellipse cx="222.6" cy="687.47" rx="4.7" ry="3.3" transform="rotate(-25 222.6 687.47)"/>
<rect x="217.75" y="687.97" width="1.3" height="34.63"/>
<rect x="242.6" y="868.22" width="13.7" height="1.45"/>
<rect x="242.6" y="861.24" width="13.7" height="1.45"/>
<rect x="242.6" y="854.26" width="13.7" height="1.45"/>
<rect x="242.6" y="847.28" width="13.7" height="1.45"/>
<rect x="242.6" y="840.3" width="13.7" height="1.45"/>
<rect x="242.6" y="833.32" width="13.7" height="1.45"/>
<rect x="242.6" y="826.34" width="13.7" height="1.45"/>
<rect x="242.6" y="819.36" width="13.7" height="1.45"/>
<rect x="242.6" y="812.38" width="13.7" height="1.45"/>
<rect x="242.6" y="805.4" width="13.7" height="1.45"/>
<rect x="242.6" y="798.42" width="13.7" height="1.45"/>
<rect x="242.6" y="791.44" width="13.7" height="1.45"/>
<rect x="242.6" y="784.46" width="13.7" height="1.45"/>
<rect x="242.6" y="777.48" width="13.7" height="1.45"/>
<rect x="242.6" y="770.5" width="13.7" height="1.45"/>
<rect x="242.6" y="763.52" width="13.7" height="1.45"/>
<rect x="242.6" y="756.54" width="13.7" height="1.45"/>
<rect x="242.6" y="749.56" width="13.7" height="1.45"/>
<rect x="242.6" y="742.58" width="13.7" height="1.45"/>
<rect x="242.6" y="735.6" width="13.7" height="1.45"/>
<rect x="242.6" y="728.62" width="13.7" height="1.45"/>
<rect x="242.6" y="721.64" width="13.7" height="1.45"/>
<rect x="242.6" y="714.66" width="13.7" height="1.45"/>
<rect x="242.6" y="707.68" width="13.7" height="1.45"/>
<rect x="242.6" y="700.7" width="13.7" height="1.45"/>
<rect x="242.6" y="693.72" width="13.7" height="1.45"/>
<rect x="242.6" y="686.74" width="13.7" height="1.45"/>
<rect x="242.6" y="679.76" width="13.7" height="1.45"/>
<rect x="242.6" y="672.78" width="13.7" height="1.45"/>
<rect x="242.6" y="665.8" width="13.7" height="1.45"/>
<rect x="242.6" y="658.82" width="13.7" height="1.45"/>
<rect x="242.6" y="651.84" width="13.7" height="1.45"/>
<rect x="242.6" y="644.86" width="13.7" height="1.45"/>
<rect x="242.6" y="637.88" width="13.7" height="1.45"/>
<rect x="242.6" y="630.9" width="13.7" height="1.45"/>
<ellipse cx="249.4" cy="628.14" rx="4.7" ry="3.3" transform="rotate(-25 249.4 628.14)"/>
<rect x="244.55" y="628.64" width="1.3" height="261.26"/>
<rect x="293.2" y="868.22" width="13.7" height="1.45"/>
<rect x="293.2" y="861.24" width="13.7" height="1.45"/>
<rect x="293.2" y="854.26" width="13.7" height="1.45"/>
<rect x="293.2" y="847.28" width="13.7" height="1.45"/>
<rect x="293.2" y="840.3" width="13.7" height="1.45"/>
<rect x="293.2" y="833.32" width="13.7" height="1.45"/>
<rect x="293.2" y="826.34" width="13.7" height="1.45"/>
<rect x="293.2" y="819.36" width="13.7" height="1.45"/>
<rect x="293.2" y="812.38" width="13.7" height="1.45"/>
<rect x="293.2" y="805.4" width="13.7" height="1.45"/>
<rect x="293.2" y="798.42" width="13.7" height="1.45"/>
<rect x="293.2" y="791.44" width="13.7" height="1.45"/>
<rect x="293.2" y="784.46" width="13.7" height="1.45"/>
<rect x="293.2" y="777.48" width="13.7" height="1.45"/>
<rect x="293.2" y="770.5" width="13.7" height="1.45"/>
<rect x="293.2" y="763.52" width="13.7" height="1.45"/>
<rect x="293.2" y="756.54" width="13.7" height="1.45"/>
<rect x="293.2" y="749.56" width="13.7" height="1.45"/>
<rect x="293.2" y="742.58" width="13.7" height="1.45"/>
<rect x="293.2" y="735.6" width="13.7" height="1.45"/>
<rect x="293.2" y="728.62" width="13.7" height="1.45"/>
<rect x="293.2" y="721.64" width="13.7" height="1.45"/>
<rect x="293.2" y="714.66" width="13.7" height="1.45"/>
<rect x="293.2" y="707.68" width="13.7" height="1.45"/>
<rect x="293.2" y="700.7" width="13.7" height="1.45"/>
<rect x="293.2" y="693.72" width="13.7" height="1.45"/>
<rect x="293.2" y="686.74" width="13.7" height="1.45"/>
<rect x="293.2" y="679.76" width="13.7" height="1.45"/>
<ellipse cx="300" cy="680.49" rx="4.7" ry="3.3" transform="rotate(-25 300 680.49)"/>
<rect x="295.15" y="680.99" width="1.3" height="208.91"/>
<rect x="353.8" y="868.22" width="13.7" height="1.45"/>
<rect x="353.8" y="861.24" width="13.7" height="1.45"/>
<rect x="353.8" y="854.26" width="13.7" height="1.45"/>
<rect x="353.8" y="847.28" width="13.7" height="1.45"/>
<rect x="353.8" y="840.3" width="13.7" height="1.45"/>
<rect x="353.8" y="833.32" width="13.7" height="1.45"/>
<rect x="353.8" y="826.34" width="13.7" height="1.45"/>
<rect x="353.8" y="819.36" width="13.7" height="1.45"/>
<rect x="353.8" y="812.38" width="13.7" height="1.45"/>
<rect x="353.8" y="805.4" width="13.7" height="1.45"/>
<rect x="353.8" y="798.42" width="13.7" height="1.45"/>
<rect x="353.8" y="791.44" width="13.7" height="1.45"/>
<rect x="353.8" y="784.46" width="13.7" height="1.45"/>
<rect x="353.8" y="777.48" width="13.7" height="1.45"/>
<rect x="353.8" y="770.5" width="13.7" height="1.45"/>
<rect x="353.8" y="763.52" width="13.7" height="1.45"/>
<rect x="353.8" y="756.54" width="13.7" height="1.45"/>
<rect x="353.8" y="749.56" width="13.7" height="1.45"/>
<rect x="353.8" y="742.58" width="13.7" height="1.45"/>
<rect x="353.8" y="735.6" width="13.7" height="1.45"/>
<rect x="353.8" y="728.62" width="13.7" height="1.45"/>
<rect x="353.8" y="721.64" width="13.7" height="1.45"/>
<rect x="353.8" y="714.66" width="13.7" height="1.45"/>
<rect x="353.8" y="707.68" width="13.7" height="1.45"/>
<rect x="353.8" y="700.7" width="13.7" height="1.45"/>
<rect x="353.8" y="693.72" width="13.7" height="1.45"/>
<rect x="353.8" y="686.74" width="13.7" height="1.45"/>
<rect x="353.8" y="679.76" width="13.7" height="1.45"/>
<ellipse cx="360.6" cy="680.49" rx="4.7" ry="3.3" transform="rotate(-25 360.6 680.49)"/>
<rect x="355.75" y="680.99" width="1.3" height="208.91"/>
<rect x="414.2" y="868.22" width="13.7" height="1.45"/>
<rect x="414.2" y="861.24" width="13.7" height="1.45"/>
<rect x="414.2" y="854.26" width="13.7" height="1.45"/>
<rect x="414.2" y="847.28" width="13.7" height="1.45"/>
<rect x="414.2" y="840.3" width="13.7" height="1.45"/>
<rect x="414.2" y="833.32" width="13.7" height="1.45"/>
<rect x="414.2" y="826.34" width="13.7" height="1.45"/>
<rect x="414.2" y="819.36" width="13.7" height="1.45"/>
<rect x="414.2" y="812.38" width="13.7" height="1.45"/>
<rect x="414.2" y="805.4" width="13.7" height="1.45"/>
<rect x="414.2" y="798.42" width="13.7" height="1.45"/>
<rect x="414.2" y="791.44" width="13.7" height="1.45"/>
<rect x="414.2" y="784.46" width="13.7" height="1.45"/>
<rect x="414.2" y="777.48" width="13.7" height="1.45"/>
<rect x="414.2" y="770.5" width="13.7" height="1.45"/>
<rect x="414.2" y="763.52" width="13.7" height="1.45"/>
<rect x="414.2" y="756.54" width="13.7" height="1.45"/>
<rect x="414.2" y="749.56" width="13.7" height="1.45"/>
<rect x="414.2" y="742.58" width="13.7" height="1.45"/>
<rect x="414.2" y="735.6" width="13.7" height="1.45"/>
<rect x="414.2" y="728.62" width="13.7" height="1.45"/>
<rect x="414.2" y="721.64" width="13.7" height="1.45"/>
<rect x="414.2" y="714.66" width="13.7" height="1.45"/>
<rect x="414.2" y="707.68" width="13.7" height="1.45"/>
<rect x="414.2" y="700.7" width="13.7" height="1.45"/>
<rect x="414.2" y="693.72" width="13.7" height="1.45"/>
<rect x="414.2" y="686.74" width="13.7" height="1.45"/>
<rect x="414.2" y="679.76" width="13.7" height="1.45"/>
<rect x="414.2" y="672.78" width="13.7" height="1.45"/>
<ellipse cx="421" cy="673.51" rx="4.7" ry="3.3" transform="rotate(-25 421 673.51)"/>
<rect x="416.15" y="674.01" width="1.3" height="215.89"/>
<rect x="407.6" y="664.5" width="1.2" height="19"/>
<rect x="410.7" y="663" width="1.2" height="19"/>
<polygon points="406,669.2 413.9,666.9 413.9,669.5 406,671.8"/>
<polygon points="406,676.8 413.9,674.3 413.9,676.9 406,679.4"/>
<rect x="261.8" y="868.22" width="13.7" height="1.45"/>
<rect x="261.8" y="861.24" width="13.7" height="1.45"/>
<rect x="261.8" y="854.26" width="13.7" height="1.45"/>
<rect x="261.8" y="847.28" width="13.7" height="1.45"/>
<rect x="261.8" y="840.3" width="13.7" height="1.45"/>
<rect x="261.8" y="833.32" width="13.7" height="1.45"/>
<rect x="261.8" y="826.34" width="13.7" height="1.45"/>
<rect x="261.8" y="819.36" width="13.7" height="1.45"/>
<rect x="261.8" y="812.38" width="13.7" height="1.45"/>
<rect x="261.8" y="805.4" width="13.7" height="1.45"/>
<rect x="261.8" y="798.42" width="13.7" height="1.45"/>
<rect x="261.8" y="791.44" width="13.7" height="1.45"/>
<rect x="261.8" y="784.46" width="13.7" height="1.45"/>
<rect x="261.8" y="777.48" width="13.7" height="1.45"/>
<rect x="261.8" y="770.5" width="13.7" height="1.45"/>
<rect x="261.8" y="763.52" width="13.7" height="1.45"/>
<rect x="261.8" y="756.54" width="13.7" height="1.45"/>
<rect x="261.8" y="749.56" width="13.7" height="1.45"/>
<rect x="261.8" y="742.58" width="13.7" height="1.45"/>
<rect x="261.8" y="735.6" width="13.7" height="1.45"/>
<ellipse cx="268.6" cy="736.33" rx="4.7" ry="3.3" transform="rotate(-25 268.6 736.33)"/>
<rect x="263.75" y="736.83" width="1.3" height="153.07"/>
<rect x="257" y="725.6" width="1.15" height="16.2"/>
<rect x="260.55" y="730.2" width="1.15" height="15.2"/>
<polygon points="257,730.8 261.7,730.2 261.7,732.7 257,733.3"/>
<polygon points="257,739.3 261.7,738.7 261.7,741.2 257,741.8"/>
<rect x="306.8" y="868.22" width="13.7" height="1.45"/>
<rect x="306.8" y="861.24" width="13.7" height="1.45"/>
<rect x="306.8" y="854.26" width="13.7" height="1.45"/>
<rect x="306.8" y="847.28" width="13.7" height="1.45"/>
<rect x="306.8" y="840.3" width="13.7" height="1.45"/>
<rect x="306.8" y="833.32" width="13.7" height="1.45"/>
<rect x="306.8" y="826.34" width="13.7" height="1.45"/>
<rect x="306.8" y="819.36" width="13.7" height="1.45"/>
<rect x="306.8" y="812.38" width="13.7" height="1.45"/>
<rect x="306.8" y="805.4" width="13.7" height="1.45"/>
<rect x="306.8" y="798.42" width="13.7" height="1.45"/>
<rect x="306.8" y="791.44" width="13.7" height="1.45"/>
<rect x="306.8" y="784.46" width="13.7" height="1.45"/>
<rect x="306.8" y="777.48" width="13.7" height="1.45"/>
<rect x="306.8" y="770.5" width="13.7" height="1.45"/>
<rect x="306.8" y="763.52" width="13.7" height="1.45"/>
<rect x="306.8" y="756.54" width="13.7" height="1.45"/>
<ellipse cx="313.6" cy="753.78" rx="4.7" ry="3.3" transform="rotate(-25 313.6 753.78)"/>
<rect x="308.75" y="754.28" width="1.3" height="68.12"/>
<rect x="320.8" y="868.22" width="13.7" height="1.45"/>
<rect x="320.8" y="861.24" width="13.7" height="1.45"/>
<rect x="320.8" y="854.26" width="13.7" height="1.45"/>
<rect x="320.8" y="847.28" width="13.7" height="1.45"/>
<rect x="320.8" y="840.3" width="13.7" height="1.45"/>
<rect x="320.8" y="833.32" width="13.7" height="1.45"/>
<rect x="320.8" y="826.34" width="13.7" height="1.45"/>
<rect x="320.8" y="819.36" width="13.7" height="1.45"/>
<rect x="320.8" y="812.38" width="13.7" height="1.45"/>
<rect x="320.8" y="805.4" width="13.7" height="1.45"/>
<rect x="320.8" y="798.42" width="13.7" height="1.45"/>
<rect x="320.8" y="791.44" width="13.7" height="1.45"/>
<rect x="320.8" y="784.46" width="13.7" height="1.45"/>
<rect x="320.8" y="777.48" width="13.7" height="1.45"/>
<rect x="320.8" y="770.5" width="13.7" height="1.45"/>
<rect x="320.8" y="763.52" width="13.7" height="1.45"/>
<rect x="320.8" y="756.54" width="13.7" height="1.45"/>
<ellipse cx="327.6" cy="753.78" rx="4.7" ry="3.3" transform="rotate(-25 327.6 753.78)"/>
<rect x="322.75" y="754.28" width="1.3" height="68.12"/>
<rect x="386.8" y="868.22" width="13.7" height="1.45"/>
<rect x="386.8" y="861.24" width="13.7" height="1.45"/>
<rect x="386.8" y="854.26" width="13.7" height="1.45"/>
<rect x="386.8" y="847.28" width="13.7" height="1.45"/>
<rect x="386.8" y="840.3" width="13.7" height="1.45"/>
<rect x="386.8" y="833.32" width="13.7" height="1.45"/>
<rect x="386.8" y="826.34" width="13.7" height="1.45"/>
<rect x="386.8" y="819.36" width="13.7" height="1.45"/>
<rect x="386.8" y="812.38" width="13.7" height="1.45"/>
<rect x="386.8" y="805.4" width="13.7" height="1.45"/>
<rect x="386.8" y="798.42" width="13.7" height="1.45"/>
<rect x="386.8" y="791.44" width="13.7" height="1.45"/>
<rect x="386.8" y="784.46" width="13.7" height="1.45"/>
<rect x="386.8" y="777.48" width="13.7" height="1.45"/>
<rect x="386.8" y="770.5" width="13.7" height="1.45"/>
<rect x="386.8" y="763.52" width="13.7" height="1.45"/>
<rect x="386.8" y="756.54" width="13.7" height="1.45"/>
<rect x="386.8" y="749.56" width="13.7" height="1.45"/>
<rect x="386.8" y="742.58" width="13.7" height="1.45"/>
<rect x="386.8" y="735.6" width="13.7" height="1.45"/>
<ellipse cx="393.6" cy="736.33" rx="4.7" ry="3.3" transform="rotate(-25 393.6 736.33)"/>
<rect x="388.75" y="736.83" width="1.3" height="153.07"/>
<rect x="495.8" y="868.22" width="13.7" height="1.45"/>
<rect x="495.8" y="861.24" width="13.7" height="1.45"/>
<rect x="495.8" y="854.26" width="13.7" height="1.45"/>
<rect x="495.8" y="847.28" width="13.7" height="1.45"/>
<rect x="495.8" y="840.3" width="13.7" height="1.45"/>
<rect x="495.8" y="833.32" width="13.7" height="1.45"/>
<rect x="495.8" y="826.34" width="13.7" height="1.45"/>
<rect x="495.8" y="819.36" width="13.7" height="1.45"/>
<rect x="495.8" y="812.38" width="13.7" height="1.45"/>
<rect x="495.8" y="805.4" width="13.7" height="1.45"/>
<ellipse cx="502.6" cy="802.64" rx="4.7" ry="3.3" transform="rotate(-25 502.6 802.64)"/>
<rect x="497.75" y="803.14" width="1.3" height="86.76"/>
<rect x="490" y="793.7" width="1.2" height="19"/>
<rect x="493.1" y="792.2" width="1.2" height="19"/>
<polygon points="488.4,798.4 496.3,796.1 496.3,798.7 488.4,801"/>
<polygon points="488.4,806 496.3,803.5 496.3,806.1 488.4,808.6"/>
<rect x="612.9" y="868.22" width="13.7" height="1.45"/>
<rect x="612.9" y="861.24" width="13.7" height="1.45"/>
<rect x="612.9" y="854.26" width="13.7" height="1.45"/>
<rect x="612.9" y="847.28" width="13.7" height="1.45"/>
<rect x="612.9" y="840.3" width="13.7" height="1.45"/>
<rect x="612.9" y="833.32" width="13.7" height="1.45"/>
<rect x="612.9" y="826.34" width="13.7" height="1.45"/>
<rect x="612.9" y="819.36" width="13.7" height="1.45"/>
<rect x="612.9" y="812.38" width="13.7" height="1.45"/>
<rect x="612.9" y="805.4" width="13.7" height="1.45"/>
<rect x="612.9" y="798.42" width="13.7" height="1.45"/>
<rect x="612.9" y="791.44" width="13.7" height="1.45"/>
<rect x="612.9" y="784.46" width="13.7" height="1.45"/>
<rect x="612.9" y="777.48" width="13.7" height="1.45"/>
<rect x="612.9" y="770.5" width="13.7" height="1.45"/>
<rect x="612.9" y="763.52" width="13.7" height="1.45"/>
<rect x="612.9" y="756.54" width="13.7" height="1.45"/>
<rect x="612.9" y="749.56" width="13.7" height="1.45"/>
<rect x="612.9" y="742.58" width="13.7" height="1.45"/>
<rect x="612.9" y="735.6" width="13.7" height="1.45"/>
<rect x="612.9" y="728.62" width="13.7" height="1.45"/>
<rect x="612.9" y="721.64" width="13.7" height="1.45"/>
<rect x="612.9" y="714.66" width="13.7" height="1.45"/>
<rect x="612.9" y="707.68" width="13.7" height="1.45"/>
<rect x="612.9" y="700.7" width="13.7" height="1.45"/>
<rect x="612.9" y="693.72" width="13.7" height="1.45"/>
<rect x="612.9" y="686.74" width="13.7" height="1.45"/>
<rect x="612.9" y="679.76" width="13.7" height="1.45"/>
<rect x="612.9" y="672.78" width="13.7" height="1.45"/>
<rect x="612.9" y="665.8" width="13.7" height="1.45"/>
<rect x="612.9" y="658.82" width="13.7" height="1.45"/>
<rect x="612.9" y="651.84" width="13.7" height="1.45"/>
<ellipse cx="619.7" cy="649.08" rx="4.7" ry="3.3" transform="rotate(-25 619.7 649.08)"/>
<rect x="614.85" y="649.58" width="1.3" height="240.32"/>
<rect x="685.2" y="868.22" width="13.7" height="1.45"/>
<rect x="685.2" y="861.24" width="13.7" height="1.45"/>
<rect x="685.2" y="854.26" width="13.7" height="1.45"/>
<rect x="685.2" y="847.28" width="13.7" height="1.45"/>
<rect x="685.2" y="840.3" width="13.7" height="1.45"/>
<rect x="685.2" y="833.32" width="13.7" height="1.45"/>
<rect x="685.2" y="826.34" width="13.7" height="1.45"/>
<rect x="685.2" y="819.36" width="13.7" height="1.45"/>
<rect x="685.2" y="812.38" width="13.7" height="1.45"/>
<rect x="685.2" y="805.4" width="13.7" height="1.45"/>
<rect x="685.2" y="798.42" width="13.7" height="1.45"/>
<rect x="685.2" y="791.44" width="13.7" height="1.45"/>
<rect x="685.2" y="784.46" width="13.7" height="1.45"/>
<rect x="685.2" y="777.48" width="13.7" height="1.45"/>
<rect x="685.2" y="770.5" width="13.7" height="1.45"/>
<rect x="685.2" y="763.52" width="13.7" height="1.45"/>
<rect x="685.2" y="756.54" width="13.7" height="1.45"/>
<rect x="685.2" y="749.56" width="13.7" height="1.45"/>
<rect x="685.2" y="742.58" width="13.7" height="1.45"/>
<rect x="685.2" y="735.6" width="13.7" height="1.45"/>
<rect x="685.2" y="728.62" width="13.7" height="1.45"/>
<rect x="685.2" y="721.64" width="13.7" height="1.45"/>
<rect x="685.2" y="714.66" width="13.7" height="1.45"/>
<rect x="685.2" y="707.68" width="13.7" height="1.45"/>
<rect x="685.2" y="700.7" width="13.7" height="1.45"/>
<rect x="685.2" y="693.72" width="13.7" height="1.45"/>
<rect x="685.2" y="686.74" width="13.7" height="1.45"/>
<rect x="685.2" y="679.76" width="13.7" height="1.45"/>
<rect x="685.2" y="672.78" width="13.7" height="1.45"/>
<ellipse cx="692" cy="673.51" rx="4.7" ry="3.3" transform="rotate(-25 692 673.51)"/>
<rect x="687.15" y="674.01" width="1.3" height="215.89"/>
<rect x="735.2" y="868.22" width="13.7" height="1.45"/>
<rect x="735.2" y="861.24" width="13.7" height="1.45"/>
<rect x="735.2" y="854.26" width="13.7" height="1.45"/>
<rect x="735.2" y="847.28" width="13.7" height="1.45"/>
<rect x="735.2" y="840.3" width="13.7" height="1.45"/>
<rect x="735.2" y="833.32" width="13.7" height="1.45"/>
<rect x="735.2" y="826.34" width="13.7" height="1.45"/>
<rect x="735.2" y="819.36" width="13.7" height="1.45"/>
<rect x="735.2" y="812.38" width="13.7" height="1.45"/>
<rect x="735.2" y="805.4" width="13.7" height="1.45"/>
<rect x="735.2" y="798.42" width="13.7" height="1.45"/>
<rect x="735.2" y="791.44" width="13.7" height="1.45"/>
<rect x="735.2" y="784.46" width="13.7" height="1.45"/>
<rect x="735.2" y="777.48" width="13.7" height="1.45"/>
<rect x="735.2" y="770.5" width="13.7" height="1.45"/>
<rect x="735.2" y="763.52" width="13.7" height="1.45"/>
<rect x="735.2" y="756.54" width="13.7" height="1.45"/>
<rect x="735.2" y="749.56" width="13.7" height="1.45"/>
<rect x="735.2" y="742.58" width="13.7" height="1.45"/>
<rect x="735.2" y="735.6" width="13.7" height="1.45"/>
<rect x="735.2" y="728.62" width="13.7" height="1.45"/>
<rect x="735.2" y="721.64" width="13.7" height="1.45"/>
<rect x="735.2" y="714.66" width="13.7" height="1.45"/>
<rect x="735.2" y="707.68" width="13.7" height="1.45"/>
<rect x="735.2" y="700.7" width="13.7" height="1.45"/>
<rect x="735.2" y="693.72" width="13.7" height="1.45"/>
<rect x="735.2" y="686.74" width="13.7" height="1.45"/>
<rect x="735.2" y="679.76" width="13.7" height="1.45"/>
<rect x="735.2" y="672.78" width="13.7" height="1.45"/>
<rect x="735.2" y="665.8" width="13.7" height="1.45"/>
<rect x="735.2" y="658.82" width="13.7" height="1.45"/>
<rect x="735.2" y="651.84" width="13.7" height="1.45"/>
<rect x="735.2" y="644.86" width="13.7" height="1.45"/>
<ellipse cx="742" cy="642.1" rx="4.7" ry="3.3" transform="rotate(-25 742 642.1)"/>
<rect x="737.15" y="642.6" width="1.3" height="247.3"/>
<rect x="760.2" y="868.22" width="13.7" height="1.45"/>
<rect x="760.2" y="861.24" width="13.7" height="1.45"/>
<rect x="760.2" y="854.26" width="13.7" height="1.45"/>
<rect x="760.2" y="847.28" width="13.7" height="1.45"/>
<rect x="760.2" y="840.3" width="13.7" height="1.45"/>
<rect x="760.2" y="833.32" width="13.7" height="1.45"/>
<rect x="760.2" y="826.34" width="13.7" height="1.45"/>
<rect x="760.2" y="819.36" width="13.7" height="1.45"/>
<rect x="760.2" y="812.38" width="13.7" height="1.45"/>
<rect x="760.2" y="805.4" width="13.7" height="1.45"/>
<rect x="760.2" y="798.42" width="13.7" height="1.45"/>
<rect x="760.2" y="791.44" width="13.7" height="1.45"/>
<rect x="760.2" y="784.46" width="13.7" height="1.45"/>
<rect x="760.2" y="777.48" width="13.7" height="1.45"/>
<rect x="760.2" y="770.5" width="13.7" height="1.45"/>
<rect x="760.2" y="763.52" width="13.7" height="1.45"/>
<rect x="760.2" y="756.54" width="13.7" height="1.45"/>
<rect x="760.2" y="749.56" width="13.7" height="1.45"/>
<ellipse cx="767" cy="746.8" rx="4.7" ry="3.3" transform="rotate(-25 767 746.8)"/>
<rect x="762.15" y="747.3" width="1.3" height="142.6"/>
<rect x="793.5" y="868.22" width="13.7" height="1.45"/>
<rect x="793.5" y="861.24" width="13.7" height="1.45"/>
<rect x="793.5" y="854.26" width="13.7" height="1.45"/>
<rect x="793.5" y="847.28" width="13.7" height="1.45"/>
<rect x="793.5" y="840.3" width="13.7" height="1.45"/>
<rect x="793.5" y="833.32" width="13.7" height="1.45"/>
<rect x="793.5" y="826.34" width="13.7" height="1.45"/>
<rect x="793.5" y="819.36" width="13.7" height="1.45"/>
<rect x="793.5" y="812.38" width="13.7" height="1.45"/>
<rect x="793.5" y="805.4" width="13.7" height="1.45"/>
<rect x="793.5" y="798.42" width="13.7" height="1.45"/>
<rect x="793.5" y="791.44" width="13.7" height="1.45"/>
<rect x="793.5" y="784.46" width="13.7" height="1.45"/>
<rect x="793.5" y="777.48" width="13.7" height="1.45"/>
<rect x="793.5" y="770.5" width="13.7" height="1.45"/>
<rect x="793.5" y="763.52" width="13.7" height="1.45"/>
<rect x="793.5" y="756.54" width="13.7" height="1.45"/>
<rect x="793.5" y="749.56" width="13.7" height="1.45"/>
<rect x="793.5" y="742.58" width="13.7" height="1.45"/>
<rect x="793.5" y="735.6" width="13.7" height="1.45"/>
<rect x="793.5" y="728.62" width="13.7" height="1.45"/>
<rect x="793.5" y="721.64" width="13.7" height="1.45"/>
<ellipse cx="800.3" cy="718.88" rx="4.7" ry="3.3" transform="rotate(-25 800.3 718.88)"/>
<rect x="795.45" y="719.38" width="1.3" height="170.52"/>
<rect x="820.2" y="868.22" width="13.7" height="1.45"/>
<rect x="820.2" y="861.24" width="13.7" height="1.45"/>
<rect x="820.2" y="854.26" width="13.7" height="1.45"/>
<rect x="820.2" y="847.28" width="13.7" height="1.45"/>
<rect x="820.2" y="840.3" width="13.7" height="1.45"/>
<rect x="820.2" y="833.32" width="13.7" height="1.45"/>
<rect x="820.2" y="826.34" width="13.7" height="1.45"/>
<rect x="820.2" y="819.36" width="13.7" height="1.45"/>
<rect x="820.2" y="812.38" width="13.7" height="1.45"/>
<rect x="820.2" y="805.4" width="13.7" height="1.45"/>
<rect x="820.2" y="798.42" width="13.7" height="1.45"/>
<rect x="820.2" y="791.44" width="13.7" height="1.45"/>
<rect x="820.2" y="784.46" width="13.7" height="1.45"/>
<rect x="820.2" y="777.48" width="13.7" height="1.45"/>
<rect x="820.2" y="770.5" width="13.7" height="1.45"/>
<rect x="820.2" y="763.52" width="13.7" height="1.45"/>
<rect x="820.2" y="756.54" width="13.7" height="1.45"/>
<rect x="820.2" y="749.56" width="13.7" height="1.45"/>
<rect x="820.2" y="742.58" width="13.7" height="1.45"/>
<rect x="820.2" y="735.6" width="13.7" height="1.45"/>
<rect x="820.2" y="728.62" width="13.7" height="1.45"/>
<rect x="820.2" y="721.64" width="13.7" height="1.45"/>
<ellipse cx="827" cy="722.37" rx="4.7" ry="3.3" transform="rotate(-25 827 722.37)"/>
<rect x="822.15" y="722.87" width="1.3" height="167.03"/>
<rect x="814.6" y="713.4" width="1.2" height="19"/>
<rect x="817.7" y="711.9" width="1.2" height="19"/>
<polygon points="813,718.1 820.9,715.8 820.9,718.4 813,720.7"/>
<polygon points="813,725.7 820.9,723.2 820.9,725.8 813,728.3"/>
<rect x="603.8" y="868.22" width="13.7" height="1.45"/>
<rect x="603.8" y="861.24" width="13.7" height="1.45"/>
<rect x="603.8" y="854.26" width="13.7" height="1.45"/>
<rect x="603.8" y="847.28" width="13.7" height="1.45"/>
<rect x="603.8" y="840.3" width="13.7" height="1.45"/>
<rect x="603.8" y="833.32" width="13.7" height="1.45"/>
<rect x="603.8" y="826.34" width="13.7" height="1.45"/>
<rect x="603.8" y="819.36" width="13.7" height="1.45"/>
<rect x="603.8" y="812.38" width="13.7" height="1.45"/>
<rect x="603.8" y="805.4" width="13.7" height="1.45"/>
<ellipse cx="610.6" cy="802.64" rx="4.7" ry="3.3" transform="rotate(-25 610.6 802.64)"/>
<rect x="605.75" y="803.14" width="1.3" height="86.76"/>
<rect x="599" y="792.7" width="1.15" height="16.2"/>
<rect x="602.55" y="797.3" width="1.15" height="15.2"/>
<polygon points="599,797.9 603.7,797.3 603.7,799.8 599,800.4"/>
<polygon points="599,806.4 603.7,805.8 603.7,808.3 599,808.9"/>
<rect x="638.8" y="868.22" width="13.7" height="1.45"/>
<rect x="638.8" y="861.24" width="13.7" height="1.45"/>
<rect x="638.8" y="854.26" width="13.7" height="1.45"/>
<rect x="638.8" y="847.28" width="13.7" height="1.45"/>
<rect x="638.8" y="840.3" width="13.7" height="1.45"/>
<rect x="638.8" y="833.32" width="13.7" height="1.45"/>
<rect x="638.8" y="826.34" width="13.7" height="1.45"/>
<rect x="638.8" y="819.36" width="13.7" height="1.45"/>
<rect x="638.8" y="812.38" width="13.7" height="1.45"/>
<rect x="638.8" y="805.4" width="13.7" height="1.45"/>
<ellipse cx="645.6" cy="802.64" rx="4.7" ry="3.3" transform="rotate(-25 645.6 802.64)"/>
<rect x="640.75" y="803.14" width="1.3" height="86.76"/>
<rect x="633" y="793.7" width="1.2" height="19"/>
<rect x="636.1" y="792.2" width="1.2" height="19"/>
<polygon points="631.4,798.4 639.3,796.1 639.3,798.7 631.4,801"/>
<polygon points="631.4,806 639.3,803.5 639.3,806.1 631.4,808.6"/>
<rect x="652.6" y="868.22" width="13.7" height="1.45"/>
<rect x="652.6" y="861.24" width="13.7" height="1.45"/>
<rect x="652.6" y="854.26" width="13.7" height="1.45"/>
<rect x="652.6" y="847.28" width="13.7" height="1.45"/>
<rect x="652.6" y="840.3" width="13.7" height="1.45"/>
<ellipse cx="659.4" cy="837.54" rx="4.7" ry="3.3" transform="rotate(-25 659.4 837.54)"/>
<rect x="654.55" y="838.04" width="1.3" height="51.86"/>
<rect x="720.5" y="868.22" width="13.7" height="1.45"/>
<rect x="720.5" y="861.24" width="13.7" height="1.45"/>
<rect x="720.5" y="854.26" width="13.7" height="1.45"/>
<rect x="720.5" y="847.28" width="13.7" height="1.45"/>
<rect x="720.5" y="840.3" width="13.7" height="1.45"/>
<rect x="720.5" y="833.32" width="13.7" height="1.45"/>
<rect x="720.5" y="826.34" width="13.7" height="1.45"/>
<rect x="720.5" y="819.36" width="13.7" height="1.45"/>
<rect x="720.5" y="812.38" width="13.7" height="1.45"/>
<rect x="720.5" y="805.4" width="13.7" height="1.45"/>
<rect x="720.5" y="798.42" width="13.7" height="1.45"/>
<ellipse cx="727.3" cy="795.66" rx="4.7" ry="3.3" transform="rotate(-25 727.3 795.66)"/>
<rect x="722.45" y="796.16" width="1.3" height="93.74"/>
<rect x="713.8" y="786.7" width="1.2" height="19"/>
<rect x="716.9" y="785.2" width="1.2" height="19"/>
<polygon points="712.2,791.4 720.1,789.1 720.1,791.7 712.2,794"/>
<polygon points="712.2,799 720.1,796.5 720.1,799.1 712.2,801.6"/>
<rect x="806.5" y="868.22" width="13.7" height="1.45"/>
<rect x="806.5" y="861.24" width="13.7" height="1.45"/>
<rect x="806.5" y="854.26" width="13.7" height="1.45"/>
<rect x="806.5" y="847.28" width="13.7" height="1.45"/>
<rect x="806.5" y="840.3" width="13.7" height="1.45"/>
<rect x="806.5" y="833.32" width="13.7" height="1.45"/>
<rect x="806.5" y="826.34" width="13.7" height="1.45"/>
<rect x="806.5" y="819.36" width="13.7" height="1.45"/>
<rect x="806.5" y="812.38" width="13.7" height="1.45"/>
<rect x="806.5" y="805.4" width="13.7" height="1.45"/>
<rect x="806.5" y="798.42" width="13.7" height="1.45"/>
<ellipse cx="813.3" cy="795.66" rx="4.7" ry="3.3" transform="rotate(-25 813.3 795.66)"/>
<rect x="808.45" y="796.16" width="1.3" height="93.74"/>
<rect x="95.8" y="868.22" width="13.7" height="1.45"/>
<rect x="95.8" y="861.24" width="13.7" height="1.45"/>
<rect x="95.8" y="854.26" width="13.7" height="1.45"/>
<rect x="95.8" y="847.28" width="13.7" height="1.45"/>
<ellipse cx="102.6" cy="844.52" rx="4.7" ry="3.3" transform="rotate(-25 102.6 844.52)"/>
<rect x="97.75" y="845.02" width="1.3" height="78.98"/>
<rect x="192.8" y="868.22" width="13.7" height="1.45"/>
<rect x="192.8" y="861.24" width="13.7" height="1.45"/>
<rect x="192.8" y="854.26" width="13.7" height="1.45"/>
<rect x="192.8" y="847.28" width="13.7" height="1.45"/>
<rect x="192.8" y="840.3" width="13.7" height="1.45"/>
<rect x="192.8" y="833.32" width="13.7" height="1.45"/>
<ellipse cx="199.6" cy="830.56" rx="4.7" ry="3.3" transform="rotate(-25 199.6 830.56)"/>
<rect x="194.75" y="831.06" width="1.3" height="58.84"/>
<rect x="233.6" y="868.22" width="13.7" height="1.45"/>
<ellipse cx="240.4" cy="865.46" rx="4.7" ry="3.3" transform="rotate(-25 240.4 865.46)"/>
<rect x="235.55" y="865.96" width="1.3" height="23.94"/>
<rect x="279.6" y="868.22" width="13.7" height="1.45"/>
<rect x="279.6" y="861.24" width="13.7" height="1.45"/>
<rect x="279.6" y="854.26" width="13.7" height="1.45"/>
<ellipse cx="286.4" cy="851.5" rx="4.7" ry="3.3" transform="rotate(-25 286.4 851.5)"/>
<rect x="281.55" y="852" width="1.3" height="37.9"/>
<rect x="367.6" y="868.22" width="13.7" height="1.45"/>
<rect x="367.6" y="861.24" width="13.7" height="1.45"/>
<rect x="367.6" y="854.26" width="13.7" height="1.45"/>
<rect x="367.6" y="847.28" width="13.7" height="1.45"/>
<ellipse cx="374.4" cy="844.52" rx="4.7" ry="3.3" transform="rotate(-25 374.4 844.52)"/>
<rect x="369.55" y="845.02" width="1.3" height="69.98"/>
<rect x="399.6" y="868.22" width="13.7" height="1.45"/>
<rect x="399.6" y="861.24" width="13.7" height="1.45"/>
<rect x="399.6" y="854.26" width="13.7" height="1.45"/>
<rect x="399.6" y="847.28" width="13.7" height="1.45"/>
<ellipse cx="406.4" cy="844.52" rx="4.7" ry="3.3" transform="rotate(-25 406.4 844.52)"/>
<rect x="401.55" y="845.02" width="1.3" height="69.98"/>
<rect x="458.6" y="868.22" width="13.7" height="1.45"/>
<rect x="458.6" y="861.24" width="13.7" height="1.45"/>
<rect x="458.6" y="854.26" width="13.7" height="1.45"/>
<ellipse cx="465.4" cy="851.5" rx="4.7" ry="3.3" transform="rotate(-25 465.4 851.5)"/>
<rect x="460.55" y="852" width="1.3" height="37.9"/>
<ellipse cx="93.6" cy="875.93" rx="4.7" ry="3.3" transform="rotate(-25 93.6 875.93)"/>
<rect x="88.75" y="876.43" width="1.3" height="47.57"/>
<ellipse cx="84.4" cy="893.43" rx="4.7" ry="3.3" transform="rotate(-25 84.4 893.43)"/>
<rect x="79.55" y="893.93" width="1.3" height="30.07"/>
<ellipse cx="107.6" cy="882.93" rx="4.7" ry="3.3" transform="rotate(-25 107.6 882.93)"/>
<rect x="102.75" y="883.43" width="1.3" height="51.07"/>
<ellipse cx="118" cy="900.43" rx="4.7" ry="3.3" transform="rotate(-25 118 900.43)"/>
<rect x="121.65" y="849.7" width="1.3" height="50.23"/>
<ellipse cx="155.6" cy="875.93" rx="4.7" ry="3.3" transform="rotate(-25 155.6 875.93)"/>
<rect x="150.75" y="876.43" width="1.3" height="45.57"/>
<circle cx="127" cy="879" r="1.25"/>
<circle cx="134" cy="879" r="1.25"/>
<circle cx="140.4" cy="879" r="1.25"/>
<ellipse cx="272" cy="900.43" rx="4.7" ry="3.3" transform="rotate(-25 272 900.43)"/>
<rect x="275.65" y="849.7" width="1.3" height="50.23"/>
<ellipse cx="411" cy="875.93" rx="4.7" ry="3.3" transform="rotate(-25 411 875.93)"/>
<rect x="406.15" y="876.43" width="1.3" height="22.57"/>
<ellipse cx="434.4" cy="893.43" rx="4.7" ry="3.3" transform="rotate(-25 434.4 893.43)"/>
<rect x="429.55" y="893.93" width="1.3" height="40.57"/>
<rect x="462.2" y="910.2" width="13.7" height="1.45"/>
<rect x="462.2" y="917.2" width="13.7" height="1.45"/>
<ellipse cx="469" cy="917.93" rx="4.7" ry="3.3" transform="rotate(-25 469 917.93)"/>
<rect x="472.65" y="889.9" width="1.3" height="27.53"/>
<rect x="455.6" y="908.9" width="1.2" height="19"/>
<rect x="458.7" y="907.4" width="1.2" height="19"/>
<polygon points="454,913.6 461.9,911.3 461.9,913.9 454,916.2"/>
<polygon points="454,921.2 461.9,918.7 461.9,921.3 454,923.8"/>
<rect x="489.6" y="884.4" width="1.2" height="19"/>
<rect x="492.7" y="882.9" width="1.2" height="19"/>
<polygon points="488,889.1 495.9,886.8 495.9,889.4 488,891.7"/>
<polygon points="488,896.7 495.9,894.2 495.9,896.8 488,899.3"/>
<ellipse cx="514.6" cy="893.43" rx="4.7" ry="3.3" transform="rotate(-25 514.6 893.43)"/>
<rect x="518.25" y="869" width="1.3" height="23.93"/>
<rect x="498.2" y="910.2" width="13.7" height="1.45"/>
<ellipse cx="505" cy="910.93" rx="4.7" ry="3.3" transform="rotate(-25 505 910.93)"/>
<rect x="508.65" y="887" width="1.3" height="23.43"/>
<rect x="528.8" y="910.2" width="13.7" height="1.45"/>
<rect x="528.8" y="917.2" width="13.7" height="1.45"/>
<ellipse cx="535.6" cy="917.93" rx="4.7" ry="3.3" transform="rotate(-25 535.6 917.93)"/>
<rect x="539.25" y="889.9" width="1.3" height="27.53"/>
<ellipse cx="555" cy="882.93" rx="4.7" ry="3.3" transform="rotate(-25 555 882.93)"/>
<rect x="550.15" y="883.43" width="1.3" height="51.07"/>
<ellipse cx="623" cy="900.43" rx="4.7" ry="3.3" transform="rotate(-25 623 900.43)"/>
<rect x="626.65" y="876" width="1.3" height="23.93"/>
<ellipse cx="634" cy="900.43" rx="4.7" ry="3.3" transform="rotate(-25 634 900.43)"/>
<rect x="629.15" y="900.93" width="1.3" height="19.07"/>
<rect x="706.8" y="868.22" width="13.7" height="1.45"/>
<ellipse cx="713.6" cy="868.95" rx="4.7" ry="3.3" transform="rotate(-25 713.6 868.95)"/>
<rect x="708.75" y="869.45" width="1.3" height="23.55"/>
<rect x="700.9" y="860" width="1.2" height="19"/>
<rect x="704" y="858.5" width="1.2" height="19"/>
<polygon points="699.3,864.7 707.2,862.4 707.2,865 699.3,867.3"/>
<polygon points="699.3,872.3 707.2,869.8 707.2,872.4 699.3,874.9"/>
<ellipse cx="730.4" cy="893.43" rx="4.7" ry="3.3" transform="rotate(-25 730.4 893.43)"/>
<rect x="734.05" y="868" width="1.3" height="24.93"/>
<ellipse cx="746" cy="886.43" rx="4.7" ry="3.3" transform="rotate(-25 746 886.43)"/>
<rect x="741.15" y="886.93" width="1.3" height="23.07"/>
<rect x="116.8" y="910.2" width="13.7" height="1.45"/>
<rect x="116.8" y="917.2" width="13.7" height="1.45"/>
<rect x="116.8" y="924.2" width="13.7" height="1.45"/>
<rect x="116.8" y="931.2" width="13.7" height="1.45"/>
<rect x="116.8" y="938.2" width="13.7" height="1.45"/>
<rect x="116.8" y="945.2" width="13.7" height="1.45"/>
<rect x="116.8" y="952.2" width="13.7" height="1.45"/>
<rect x="116.8" y="959.2" width="13.7" height="1.45"/>
<rect x="116.8" y="966.2" width="13.7" height="1.45"/>
<rect x="116.8" y="973.2" width="13.7" height="1.45"/>
<rect x="116.8" y="980.2" width="13.7" height="1.45"/>
<rect x="116.8" y="987.2" width="13.7" height="1.45"/>
<rect x="116.8" y="994.2" width="13.7" height="1.45"/>
<rect x="116.8" y="1001.2" width="13.7" height="1.45"/>
<rect x="116.8" y="1008.2" width="13.7" height="1.45"/>
<rect x="116.8" y="1015.2" width="13.7" height="1.45"/>
<rect x="116.8" y="1022.2" width="13.7" height="1.45"/>
<rect x="116.8" y="1029.2" width="13.7" height="1.45"/>
<ellipse cx="123.6" cy="1033.43" rx="4.7" ry="3.3" transform="rotate(-25 123.6 1033.43)"/>
<rect x="127.25" y="852" width="1.3" height="180.93"/>
<rect x="165.6" y="910.2" width="13.7" height="1.45"/>
<rect x="165.6" y="917.2" width="13.7" height="1.45"/>
<rect x="165.6" y="924.2" width="13.7" height="1.45"/>
<rect x="165.6" y="931.2" width="13.7" height="1.45"/>
<rect x="165.6" y="938.2" width="13.7" height="1.45"/>
<rect x="165.6" y="945.2" width="13.7" height="1.45"/>
<rect x="165.6" y="952.2" width="13.7" height="1.45"/>
<rect x="165.6" y="959.2" width="13.7" height="1.45"/>
<rect x="165.6" y="966.2" width="13.7" height="1.45"/>
<rect x="165.6" y="973.2" width="13.7" height="1.45"/>
<rect x="165.6" y="980.2" width="13.7" height="1.45"/>
<rect x="165.6" y="987.2" width="13.7" height="1.45"/>
<rect x="165.6" y="994.2" width="13.7" height="1.45"/>
<rect x="165.6" y="1001.2" width="13.7" height="1.45"/>
<rect x="165.6" y="1008.2" width="13.7" height="1.45"/>
<rect x="165.6" y="1015.2" width="13.7" height="1.45"/>
<rect x="165.6" y="1022.2" width="13.7" height="1.45"/>
<rect x="165.6" y="1029.2" width="13.7" height="1.45"/>
<ellipse cx="172.4" cy="1033.43" rx="4.7" ry="3.3" transform="rotate(-25 172.4 1033.43)"/>
<rect x="176.05" y="872" width="1.3" height="160.93"/>
<rect x="181.6" y="910.2" width="13.7" height="1.45"/>
<rect x="181.6" y="917.2" width="13.7" height="1.45"/>
<rect x="181.6" y="924.2" width="13.7" height="1.45"/>
<rect x="181.6" y="931.2" width="13.7" height="1.45"/>
<rect x="181.6" y="938.2" width="13.7" height="1.45"/>
<rect x="181.6" y="945.2" width="13.7" height="1.45"/>
<rect x="181.6" y="952.2" width="13.7" height="1.45"/>
<rect x="181.6" y="959.2" width="13.7" height="1.45"/>
<rect x="181.6" y="966.2" width="13.7" height="1.45"/>
<rect x="181.6" y="973.2" width="13.7" height="1.45"/>
<rect x="181.6" y="980.2" width="13.7" height="1.45"/>
<rect x="181.6" y="987.2" width="13.7" height="1.45"/>
<rect x="181.6" y="994.2" width="13.7" height="1.45"/>
<rect x="181.6" y="1001.2" width="13.7" height="1.45"/>
<rect x="181.6" y="1008.2" width="13.7" height="1.45"/>
<rect x="181.6" y="1015.2" width="13.7" height="1.45"/>
<rect x="181.6" y="1022.2" width="13.7" height="1.45"/>
<rect x="181.6" y="1029.2" width="13.7" height="1.45"/>
<rect x="181.6" y="1036.2" width="13.7" height="1.45"/>
<rect x="181.6" y="1043.2" width="13.7" height="1.45"/>
<rect x="181.6" y="1050.2" width="13.7" height="1.45"/>
<rect x="181.6" y="1057.2" width="13.7" height="1.45"/>
<rect x="181.6" y="1064.2" width="13.7" height="1.45"/>
<rect x="181.6" y="1071.2" width="13.7" height="1.45"/>
<ellipse cx="188.4" cy="1071.93" rx="4.7" ry="3.3" transform="rotate(-25 188.4 1071.93)"/>
<rect x="192.05" y="889.9" width="1.3" height="181.53"/>
<rect x="268.2" y="910.2" width="13.7" height="1.45"/>
<rect x="268.2" y="917.2" width="13.7" height="1.45"/>
<rect x="268.2" y="924.2" width="13.7" height="1.45"/>
<rect x="268.2" y="931.2" width="13.7" height="1.45"/>
<rect x="268.2" y="938.2" width="13.7" height="1.45"/>
<rect x="268.2" y="945.2" width="13.7" height="1.45"/>
<rect x="268.2" y="952.2" width="13.7" height="1.45"/>
<rect x="268.2" y="959.2" width="13.7" height="1.45"/>
<rect x="268.2" y="966.2" width="13.7" height="1.45"/>
<rect x="268.2" y="973.2" width="13.7" height="1.45"/>
<rect x="268.2" y="980.2" width="13.7" height="1.45"/>
<rect x="268.2" y="987.2" width="13.7" height="1.45"/>
<rect x="268.2" y="994.2" width="13.7" height="1.45"/>
<rect x="268.2" y="1001.2" width="13.7" height="1.45"/>
<rect x="268.2" y="1008.2" width="13.7" height="1.45"/>
<ellipse cx="275" cy="1008.93" rx="4.7" ry="3.3" transform="rotate(-25 275 1008.93)"/>
<rect x="278.65" y="889.9" width="1.3" height="118.53"/>
<rect x="261.6" y="999.9" width="1.2" height="19"/>
<rect x="264.7" y="998.4" width="1.2" height="19"/>
<polygon points="260,1004.6 267.9,1002.3 267.9,1004.9 260,1007.2"/>
<polygon points="260,1012.2 267.9,1009.7 267.9,1012.3 260,1014.8"/>
<rect x="416.7" y="910.2" width="13.7" height="1.45"/>
<rect x="416.7" y="917.2" width="13.7" height="1.45"/>
<rect x="416.7" y="924.2" width="13.7" height="1.45"/>
<rect x="416.7" y="931.2" width="13.7" height="1.45"/>
<rect x="416.7" y="938.2" width="13.7" height="1.45"/>
<rect x="416.7" y="945.2" width="13.7" height="1.45"/>
<rect x="416.7" y="952.2" width="13.7" height="1.45"/>
<rect x="416.7" y="959.2" width="13.7" height="1.45"/>
<rect x="416.7" y="966.2" width="13.7" height="1.45"/>
<rect x="416.7" y="973.2" width="13.7" height="1.45"/>
<rect x="416.7" y="980.2" width="13.7" height="1.45"/>
<rect x="416.7" y="987.2" width="13.7" height="1.45"/>
<rect x="416.7" y="994.2" width="13.7" height="1.45"/>
<rect x="416.7" y="1001.2" width="13.7" height="1.45"/>
<rect x="416.7" y="1008.2" width="13.7" height="1.45"/>
<rect x="416.7" y="1015.2" width="13.7" height="1.45"/>
<rect x="416.7" y="1022.2" width="13.7" height="1.45"/>
<rect x="416.7" y="1029.2" width="13.7" height="1.45"/>
<rect x="416.7" y="1036.2" width="13.7" height="1.45"/>
<rect x="416.7" y="1043.2" width="13.7" height="1.45"/>
<ellipse cx="423.5" cy="1043.93" rx="4.7" ry="3.3" transform="rotate(-25 423.5 1043.93)"/>
<rect x="427.15" y="895" width="1.3" height="148.43"/>
<rect x="762.2" y="910.2" width="13.7" height="1.45"/>
<rect x="762.2" y="917.2" width="13.7" height="1.45"/>
<rect x="762.2" y="924.2" width="13.7" height="1.45"/>
<rect x="762.2" y="931.2" width="13.7" height="1.45"/>
<rect x="762.2" y="938.2" width="13.7" height="1.45"/>
<rect x="762.2" y="945.2" width="13.7" height="1.45"/>
<rect x="762.2" y="952.2" width="13.7" height="1.45"/>
<rect x="762.2" y="959.2" width="13.7" height="1.45"/>
<rect x="762.2" y="966.2" width="13.7" height="1.45"/>
<rect x="762.2" y="973.2" width="13.7" height="1.45"/>
<ellipse cx="769" cy="973.93" rx="4.7" ry="3.3" transform="rotate(-25 769 973.93)"/>
<rect x="772.65" y="889.9" width="1.3" height="83.53"/>
<polygon points="111.9,700.6 219.1,700.6 219.1,703.9 111.9,703.9"/>
<polygon points="111.9,707 219.1,707 219.1,710.3 111.9,710.3"/>
<polygon points="111.9,713.2 219.1,713.2 219.1,716.5 111.9,716.5"/>
<polygon points="111.9,719.3 219.1,719.3 219.1,722.6 111.9,722.6"/>
<polygon points="102.5,819 323.5,819 323.5,822.8 102.5,822.8"/>
<polygon points="308.9,801 323.5,801 323.5,803.8 308.9,803.8"/>
<polygon points="308.9,806 323.5,806 323.5,808.8 308.9,808.8"/>
<polygon points="308.9,811 323.5,811 323.5,813.8 308.9,813.8"/>
<polygon points="121.9,849.7 276.9,849.7 276.9,853.1 121.9,853.1"/>
<polygon points="121.9,854.4 276.9,854.4 276.9,857.8 121.9,857.8"/>
<polygon points="144.5,900 152.2,900 152.2,903 144.5,903"/>
<circle cx="135" cy="899.3" r="1.1"/>
<polygon points="126.5,852.5 176.2,852.5 176.2,863.7 126.5,863.7"/>
<polygon points="126.5,865.4 176.2,865.4 176.2,868.1 126.5,868.1"/>
<polygon points="168,871.8 176.2,871.8 176.2,874.6 168,874.6"/>
<polygon points="268.4,863.7 276.9,863.7 276.9,866.9 268.4,866.9"/>
<polygon points="268.4,868.9 276.9,868.9 276.9,871.4 268.4,871.4"/>
<polygon points="80.4,921.2 430.5,921.2 430.5,924.5 80.4,924.5"/>
<polygon points="80.4,916.4 89.6,916.4 89.6,919.6 80.4,919.6"/>
<polygon points="89.4,915 430.5,915 430.5,919.3 89.4,919.3"/>
<polygon points="89.4,908 430.5,908 430.5,911.6 89.4,911.6"/>
<polygon points="89.4,907 151.6,907 151.6,912.4 89.4,912.4"/>
<polygon points="89.4,913.6 151.6,913.6 151.6,919 89.4,919"/>
<polygon points="89.4,920 151.6,920 151.6,924.3 89.4,924.3"/>
<polygon points="103.1,931.2 552.6,931.2 552.6,934.5 103.1,934.5"/>
<polygon points="369.5,897 402.9,897 402.9,900 369.5,900"/>
<polygon points="369.5,901.8 402.9,901.8 402.9,904.8 369.5,904.8"/>
<polygon points="369.5,906.6 402.9,906.6 402.9,909.6 369.5,909.6"/>
<polygon points="369.5,911 402.9,911 402.9,914 369.5,914"/>
<polygon points="418,904 430.5,904 430.5,906.8 418,906.8"/>
<polygon points="418,910 430.5,910 430.5,912.8 418,912.8"/>
<polygon points="544,913 552.6,913 552.6,915.8 544,915.8"/>
<polygon points="544,919 552.6,919 552.6,921.8 544,921.8"/>
<polygon points="544,925 552.6,925 552.6,927.8 544,927.8"/>
<path d="M64,684.5 C73.4,677.85 101.6,677.35 111,684 C101.6,678.68 73.4,679.18 64,684.5Z"/>
<path d="M64,684.5 C73.4,677.85 101.6,677.35 111,684" fill="none" stroke="#000" stroke-width="1.05"/>
<path d="M119,680 C131.12,671.36 207.88,674.36 220,683 C207.88,675.69 131.12,672.69 119,680Z"/>
<path d="M119,680 C131.12,671.36 207.88,674.36 220,683" fill="none" stroke="#000" stroke-width="1.05"/>
<path d="M64,739.6 C72.4,733.62 97.6,733.01 106,739 C97.6,734.35 72.4,734.95 64,739.6Z"/>
<path d="M64,739.6 C72.4,733.62 97.6,733.01 106,739" fill="none" stroke="#000" stroke-width="1.05"/>
<path d="M110,750 C133.76,741.36 284.24,741.36 308,750 C284.24,742.69 133.76,742.69 110,750Z"/>
<path d="M110,750 C133.76,741.36 284.24,741.36 308,750" fill="none" stroke="#000" stroke-width="1.05"/>
<path d="M315,746.5 C318.2,741.85 327.8,741.85 331,746.5 C327.8,743.18 318.2,743.18 315,746.5Z"/>
<path d="M315,746.5 C318.2,741.85 327.8,741.85 331,746.5" fill="none" stroke="#000" stroke-width="1.05"/>
<path d="M64,841 C70.6,835.01 90.4,835.01 97,841 C90.4,836.35 70.6,836.35 64,841Z"/>
<path d="M64,841 C70.6,835.01 90.4,835.01 97,841" fill="none" stroke="#000" stroke-width="1.05"/>
<path d="M105,841.5 C137.04,833.52 339.96,832.52 372,840.5 C339.96,833.85 137.04,834.85 105,841.5Z"/>
<path d="M105,841.5 C137.04,833.52 339.96,832.52 372,840.5" fill="none" stroke="#000" stroke-width="1.05"/>
<path d="M380,840.5 C384,835.85 396,835.85 400,840.5 C396,837.18 384,837.18 380,840.5Z"/>
<path d="M380,840.5 C384,835.85 396,835.85 400,840.5" fill="none" stroke="#000" stroke-width="1.05"/>
<path d="M64,872.4 C68.8,867.08 83.2,867.08 88,872.4 C83.2,868.41 68.8,868.41 64,872.4Z"/>
<path d="M64,872.4 C68.8,867.08 83.2,867.08 88,872.4" fill="none" stroke="#000" stroke-width="1.05"/>
<path d="M64,884.5 C71,890.49 92,891.99 99,886 C92,890.65 71,889.15 64,884.5Z"/>
<path d="M64,884.5 C71,890.49 92,891.99 99,886" fill="none" stroke="#000" stroke-width="1.05"/>
<path d="M96,869.5 C108,862.85 144,865.35 156,872 C144,866.68 108,864.18 96,869.5Z"/>
<path d="M96,869.5 C108,862.85 144,865.35 156,872" fill="none" stroke="#000" stroke-width="1.05"/>
<path d="M64,891 C72,897.65 96,901.65 104,895 C96,900.32 72,896.32 64,891Z"/>
<path d="M64,891 C72,897.65 96,901.65 104,895" fill="none" stroke="#000" stroke-width="1.05"/>
<path d="M108,885 C146.88,889.65 393.12,897.65 432,893 C393.12,896.32 146.88,888.32 108,885Z"/>
<path d="M108,885 C146.88,889.65 393.12,897.65 432,893" fill="none" stroke="#000" stroke-width="1.05"/>
<path d="M112,901 C130.84,908.32 250.16,907.82 269,900.5 C250.16,906.49 130.84,906.99 112,901Z"/>
<path d="M112,901 C130.84,908.32 250.16,907.82 269,900.5" fill="none" stroke="#000" stroke-width="1.05"/>
<path d="M278,902.5 C296.24,904.5 411.76,897.5 430,895.5 C411.76,896.16 296.24,903.16 278,902.5Z"/>
<path d="M278,902.5 C296.24,904.5 411.76,897.5 430,895.5" fill="none" stroke="#000" stroke-width="1.05"/>
<path d="M438,891.5 C451.68,889.5 538.32,880 552,882 C538.32,881.34 451.68,890.84 438,891.5Z"/>
<path d="M438,891.5 C451.68,889.5 538.32,880 552,882" fill="none" stroke="#000" stroke-width="1.05"/>
<path d="M64,1036 C74.8,1042.65 107.2,1042.65 118,1036 C107.2,1041.32 74.8,1041.32 64,1036Z"/>
<path d="M64,1036 C74.8,1042.65 107.2,1042.65 118,1036" fill="none" stroke="#000" stroke-width="1.05"/>
<path d="M129,1036 C136.4,1041.32 158.6,1041.72 166,1036.4 C158.6,1040.39 136.4,1039.99 129,1036Z"/>
<path d="M129,1036 C136.4,1041.32 158.6,1041.72 166,1036.4" fill="none" stroke="#000" stroke-width="1.05"/>
<path transform="translate(520,1054) scale(1)" d="M1.7,0.3 C2.8,0.2 3.5,1.5 4.1,2.2 L7.4,5.8 C6.4,7.2 4.4,8.4 3.9,10.2 C4.0,11.6 5.8,13.8 6.8,15.2 C6.6,15.8 6.0,16.0 5.6,15.4 C4.8,14.6 3.0,14.4 2.4,15.0 C1.8,15.8 2.4,18.0 2.6,19.4 C2.4,19.9 1.8,19.9 1.6,19.4 C1.0,18.0 -0.2,16.0 -0.1,14.4 C0.2,13.0 1.8,12.6 3.4,13.2 C2.6,11.6 1.2,10.2 0.5,8.6 C1.8,7.4 3.6,6.4 3.8,4.6 C3.8,3.0 2.8,1.6 1.7,0.3 Z"/>
<path transform="translate(542,1054) scale(1)" d="M1.7,0.3 C2.8,0.2 3.5,1.5 4.1,2.2 L7.4,5.8 C6.4,7.2 4.4,8.4 3.9,10.2 C4.0,11.6 5.8,13.8 6.8,15.2 C6.6,15.8 6.0,16.0 5.6,15.4 C4.8,14.6 3.0,14.4 2.4,15.0 C1.8,15.8 2.4,18.0 2.6,19.4 C2.4,19.9 1.8,19.9 1.6,19.4 C1.0,18.0 -0.2,16.0 -0.1,14.4 C0.2,13.0 1.8,12.6 3.4,13.2 C2.6,11.6 1.2,10.2 0.5,8.6 C1.8,7.4 3.6,6.4 3.8,4.6 C3.8,3.0 2.8,1.6 1.7,0.3 Z"/>
<path transform="translate(562,1054) scale(1)" d="M1.7,0.3 C2.8,0.2 3.5,1.5 4.1,2.2 L7.4,5.8 C6.4,7.2 4.4,8.4 3.9,10.2 C4.0,11.6 5.8,13.8 6.8,15.2 C6.6,15.8 6.0,16.0 5.6,15.4 C4.8,14.6 3.0,14.4 2.4,15.0 C1.8,15.8 2.4,18.0 2.6,19.4 C2.4,19.9 1.8,19.9 1.6,19.4 C1.0,18.0 -0.2,16.0 -0.1,14.4 C0.2,13.0 1.8,12.6 3.4,13.2 C2.6,11.6 1.2,10.2 0.5,8.6 C1.8,7.4 3.6,6.4 3.8,4.6 C3.8,3.0 2.8,1.6 1.7,0.3 Z"/>
<path transform="translate(571,1054) scale(1)" d="M1.7,0.3 C2.8,0.2 3.5,1.5 4.1,2.2 L7.4,5.8 C6.4,7.2 4.4,8.4 3.9,10.2 C4.0,11.6 5.8,13.8 6.8,15.2 C6.6,15.8 6.0,16.0 5.6,15.4 C4.8,14.6 3.0,14.4 2.4,15.0 C1.8,15.8 2.4,18.0 2.6,19.4 C2.4,19.9 1.8,19.9 1.6,19.4 C1.0,18.0 -0.2,16.0 -0.1,14.4 C0.2,13.0 1.8,12.6 3.4,13.2 C2.6,11.6 1.2,10.2 0.5,8.6 C1.8,7.4 3.6,6.4 3.8,4.6 C3.8,3.0 2.8,1.6 1.7,0.3 Z"/>
<path transform="translate(579.5,1054) scale(1)" d="M1.7,0.3 C2.8,0.2 3.5,1.5 4.1,2.2 L7.4,5.8 C6.4,7.2 4.4,8.4 3.9,10.2 C4.0,11.6 5.8,13.8 6.8,15.2 C6.6,15.8 6.0,16.0 5.6,15.4 C4.8,14.6 3.0,14.4 2.4,15.0 C1.8,15.8 2.4,18.0 2.6,19.4 C2.4,19.9 1.8,19.9 1.6,19.4 C1.0,18.0 -0.2,16.0 -0.1,14.4 C0.2,13.0 1.8,12.6 3.4,13.2 C2.6,11.6 1.2,10.2 0.5,8.6 C1.8,7.4 3.6,6.4 3.8,4.6 C3.8,3.0 2.8,1.6 1.7,0.3 Z"/>
<path transform="translate(588,1054) scale(1)" d="M1.7,0.3 C2.8,0.2 3.5,1.5 4.1,2.2 L7.4,5.8 C6.4,7.2 4.4,8.4 3.9,10.2 C4.0,11.6 5.8,13.8 6.8,15.2 C6.6,15.8 6.0,16.0 5.6,15.4 C4.8,14.6 3.0,14.4 2.4,15.0 C1.8,15.8 2.4,18.0 2.6,19.4 C2.4,19.9 1.8,19.9 1.6,19.4 C1.0,18.0 -0.2,16.0 -0.1,14.4 C0.2,13.0 1.8,12.6 3.4,13.2 C2.6,11.6 1.2,10.2 0.5,8.6 C1.8,7.4 3.6,6.4 3.8,4.6 C3.8,3.0 2.8,1.6 1.7,0.3 Z"/>
<path transform="translate(597,1054) scale(1)" d="M1.7,0.3 C2.8,0.2 3.5,1.5 4.1,2.2 L7.4,5.8 C6.4,7.2 4.4,8.4 3.9,10.2 C4.0,11.6 5.8,13.8 6.8,15.2 C6.6,15.8 6.0,16.0 5.6,15.4 C4.8,14.6 3.0,14.4 2.4,15.0 C1.8,15.8 2.4,18.0 2.6,19.4 C2.4,19.9 1.8,19.9 1.6,19.4 C1.0,18.0 -0.2,16.0 -0.1,14.4 C0.2,13.0 1.8,12.6 3.4,13.2 C2.6,11.6 1.2,10.2 0.5,8.6 C1.8,7.4 3.6,6.4 3.8,4.6 C3.8,3.0 2.8,1.6 1.7,0.3 Z"/>
<path transform="translate(640,1054) scale(1)" d="M1.7,0.3 C2.8,0.2 3.5,1.5 4.1,2.2 L7.4,5.8 C6.4,7.2 4.4,8.4 3.9,10.2 C4.0,11.6 5.8,13.8 6.8,15.2 C6.6,15.8 6.0,16.0 5.6,15.4 C4.8,14.6 3.0,14.4 2.4,15.0 C1.8,15.8 2.4,18.0 2.6,19.4 C2.4,19.9 1.8,19.9 1.6,19.4 C1.0,18.0 -0.2,16.0 -0.1,14.4 C0.2,13.0 1.8,12.6 3.4,13.2 C2.6,11.6 1.2,10.2 0.5,8.6 C1.8,7.4 3.6,6.4 3.8,4.6 C3.8,3.0 2.8,1.6 1.7,0.3 Z"/>
<path transform="translate(660,1054) scale(1)" d="M1.7,0.3 C2.8,0.2 3.5,1.5 4.1,2.2 L7.4,5.8 C6.4,7.2 4.4,8.4 3.9,10.2 C4.0,11.6 5.8,13.8 6.8,15.2 C6.6,15.8 6.0,16.0 5.6,15.4 C4.8,14.6 3.0,14.4 2.4,15.0 C1.8,15.8 2.4,18.0 2.6,19.4 C2.4,19.9 1.8,19.9 1.6,19.4 C1.0,18.0 -0.2,16.0 -0.1,14.4 C0.2,13.0 1.8,12.6 3.4,13.2 C2.6,11.6 1.2,10.2 0.5,8.6 C1.8,7.4 3.6,6.4 3.8,4.6 C3.8,3.0 2.8,1.6 1.7,0.3 Z"/>
<path transform="translate(668.5,1054) scale(1)" d="M1.7,0.3 C2.8,0.2 3.5,1.5 4.1,2.2 L7.4,5.8 C6.4,7.2 4.4,8.4 3.9,10.2 C4.0,11.6 5.8,13.8 6.8,15.2 C6.6,15.8 6.0,16.0 5.6,15.4 C4.8,14.6 3.0,14.4 2.4,15.0 C1.8,15.8 2.4,18.0 2.6,19.4 C2.4,19.9 1.8,19.9 1.6,19.4 C1.0,18.0 -0.2,16.0 -0.1,14.4 C0.2,13.0 1.8,12.6 3.4,13.2 C2.6,11.6 1.2,10.2 0.5,8.6 C1.8,7.4 3.6,6.4 3.8,4.6 C3.8,3.0 2.8,1.6 1.7,0.3 Z"/>
<path transform="translate(677,1054) scale(1)" d="M1.7,0.3 C2.8,0.2 3.5,1.5 4.1,2.2 L7.4,5.8 C6.4,7.2 4.4,8.4 3.9,10.2 C4.0,11.6 5.8,13.8 6.8,15.2 C6.6,15.8 6.0,16.0 5.6,15.4 C4.8,14.6 3.0,14.4 2.4,15.0 C1.8,15.8 2.4,18.0 2.6,19.4 C2.4,19.9 1.8,19.9 1.6,19.4 C1.0,18.0 -0.2,16.0 -0.1,14.4 C0.2,13.0 1.8,12.6 3.4,13.2 C2.6,11.6 1.2,10.2 0.5,8.6 C1.8,7.4 3.6,6.4 3.8,4.6 C3.8,3.0 2.8,1.6 1.7,0.3 Z"/>
<path transform="translate(686,1054) scale(1)" d="M1.7,0.3 C2.8,0.2 3.5,1.5 4.1,2.2 L7.4,5.8 C6.4,7.2 4.4,8.4 3.9,10.2 C4.0,11.6 5.8,13.8 6.8,15.2 C6.6,15.8 6.0,16.0 5.6,15.4 C4.8,14.6 3.0,14.4 2.4,15.0 C1.8,15.8 2.4,18.0 2.6,19.4 C2.4,19.9 1.8,19.9 1.6,19.4 C1.0,18.0 -0.2,16.0 -0.1,14.4 C0.2,13.0 1.8,12.6 3.4,13.2 C2.6,11.6 1.2,10.2 0.5,8.6 C1.8,7.4 3.6,6.4 3.8,4.6 C3.8,3.0 2.8,1.6 1.7,0.3 Z"/>
<path transform="translate(708,1054) scale(1)" d="M1.7,0.3 C2.8,0.2 3.5,1.5 4.1,2.2 L7.4,5.8 C6.4,7.2 4.4,8.4 3.9,10.2 C4.0,11.6 5.8,13.8 6.8,15.2 C6.6,15.8 6.0,16.0 5.6,15.4 C4.8,14.6 3.0,14.4 2.4,15.0 C1.8,15.8 2.4,18.0 2.6,19.4 C2.4,19.9 1.8,19.9 1.6,19.4 C1.0,18.0 -0.2,16.0 -0.1,14.4 C0.2,13.0 1.8,12.6 3.4,13.2 C2.6,11.6 1.2,10.2 0.5,8.6 C1.8,7.4 3.6,6.4 3.8,4.6 C3.8,3.0 2.8,1.6 1.7,0.3 Z"/>
<path transform="translate(752,1054) scale(1)" d="M1.7,0.3 C2.8,0.2 3.5,1.5 4.1,2.2 L7.4,5.8 C6.4,7.2 4.4,8.4 3.9,10.2 C4.0,11.6 5.8,13.8 6.8,15.2 C6.6,15.8 6.0,16.0 5.6,15.4 C4.8,14.6 3.0,14.4 2.4,15.0 C1.8,15.8 2.4,18.0 2.6,19.4 C2.4,19.9 1.8,19.9 1.6,19.4 C1.0,18.0 -0.2,16.0 -0.1,14.4 C0.2,13.0 1.8,12.6 3.4,13.2 C2.6,11.6 1.2,10.2 0.5,8.6 C1.8,7.4 3.6,6.4 3.8,4.6 C3.8,3.0 2.8,1.6 1.7,0.3 Z"/>
<path transform="translate(775,1054) scale(1)" d="M1.7,0.3 C2.8,0.2 3.5,1.5 4.1,2.2 L7.4,5.8 C6.4,7.2 4.4,8.4 3.9,10.2 C4.0,11.6 5.8,13.8 6.8,15.2 C6.6,15.8 6.0,16.0 5.6,15.4 C4.8,14.6 3.0,14.4 2.4,15.0 C1.8,15.8 2.4,18.0 2.6,19.4 C2.4,19.9 1.8,19.9 1.6,19.4 C1.0,18.0 -0.2,16.0 -0.1,14.4 C0.2,13.0 1.8,12.6 3.4,13.2 C2.6,11.6 1.2,10.2 0.5,8.6 C1.8,7.4 3.6,6.4 3.8,4.6 C3.8,3.0 2.8,1.6 1.7,0.3 Z"/>
<path transform="translate(784,1054) scale(1)" d="M1.7,0.3 C2.8,0.2 3.5,1.5 4.1,2.2 L7.4,5.8 C6.4,7.2 4.4,8.4 3.9,10.2 C4.0,11.6 5.8,13.8 6.8,15.2 C6.6,15.8 6.0,16.0 5.6,15.4 C4.8,14.6 3.0,14.4 2.4,15.0 C1.8,15.8 2.4,18.0 2.6,19.4 C2.4,19.9 1.8,19.9 1.6,19.4 C1.0,18.0 -0.2,16.0 -0.1,14.4 C0.2,13.0 1.8,12.6 3.4,13.2 C2.6,11.6 1.2,10.2 0.5,8.6 C1.8,7.4 3.6,6.4 3.8,4.6 C3.8,3.0 2.8,1.6 1.7,0.3 Z"/>
<path transform="translate(793,1054) scale(1)" d="M1.7,0.3 C2.8,0.2 3.5,1.5 4.1,2.2 L7.4,5.8 C6.4,7.2 4.4,8.4 3.9,10.2 C4.0,11.6 5.8,13.8 6.8,15.2 C6.6,15.8 6.0,16.0 5.6,15.4 C4.8,14.6 3.0,14.4 2.4,15.0 C1.8,15.8 2.4,18.0 2.6,19.4 C2.4,19.9 1.8,19.9 1.6,19.4 C1.0,18.0 -0.2,16.0 -0.1,14.4 C0.2,13.0 1.8,12.6 3.4,13.2 C2.6,11.6 1.2,10.2 0.5,8.6 C1.8,7.4 3.6,6.4 3.8,4.6 C3.8,3.0 2.8,1.6 1.7,0.3 Z"/>
<path transform="translate(824,1054) scale(1)" d="M1.7,0.3 C2.8,0.2 3.5,1.5 4.1,2.2 L7.4,5.8 C6.4,7.2 4.4,8.4 3.9,10.2 C4.0,11.6 5.8,13.8 6.8,15.2 C6.6,15.8 6.0,16.0 5.6,15.4 C4.8,14.6 3.0,14.4 2.4,15.0 C1.8,15.8 2.4,18.0 2.6,19.4 C2.4,19.9 1.8,19.9 1.6,19.4 C1.0,18.0 -0.2,16.0 -0.1,14.4 C0.2,13.0 1.8,12.6 3.4,13.2 C2.6,11.6 1.2,10.2 0.5,8.6 C1.8,7.4 3.6,6.4 3.8,4.6 C3.8,3.0 2.8,1.6 1.7,0.3 Z"/>
<path transform="translate(832.5,1054) scale(1)" d="M1.7,0.3 C2.8,0.2 3.5,1.5 4.1,2.2 L7.4,5.8 C6.4,7.2 4.4,8.4 3.9,10.2 C4.0,11.6 5.8,13.8 6.8,15.2 C6.6,15.8 6.0,16.0 5.6,15.4 C4.8,14.6 3.0,14.4 2.4,15.0 C1.8,15.8 2.4,18.0 2.6,19.4 C2.4,19.9 1.8,19.9 1.6,19.4 C1.0,18.0 -0.2,16.0 -0.1,14.4 C0.2,13.0 1.8,12.6 3.4,13.2 C2.6,11.6 1.2,10.2 0.5,8.6 C1.8,7.4 3.6,6.4 3.8,4.6 C3.8,3.0 2.8,1.6 1.7,0.3 Z"/>
<path transform="translate(165,1043) scale(1)" d="M1.7,0.3 C2.8,0.2 3.5,1.5 4.1,2.2 L7.4,5.8 C6.4,7.2 4.4,8.4 3.9,10.2 C4.0,11.6 5.8,13.8 6.8,15.2 C6.6,15.8 6.0,16.0 5.6,15.4 C4.8,14.6 3.0,14.4 2.4,15.0 C1.8,15.8 2.4,18.0 2.6,19.4 C2.4,19.9 1.8,19.9 1.6,19.4 C1.0,18.0 -0.2,16.0 -0.1,14.4 C0.2,13.0 1.8,12.6 3.4,13.2 C2.6,11.6 1.2,10.2 0.5,8.6 C1.8,7.4 3.6,6.4 3.8,4.6 C3.8,3.0 2.8,1.6 1.7,0.3 Z"/>
<path transform="translate(177.5,910) scale(0.9)" d="M1.7,0.3 C2.8,0.2 3.5,1.5 4.1,2.2 L7.4,5.8 C6.4,7.2 4.4,8.4 3.9,10.2 C4.0,11.6 5.8,13.8 6.8,15.2 C6.6,15.8 6.0,16.0 5.6,15.4 C4.8,14.6 3.0,14.4 2.4,15.0 C1.8,15.8 2.4,18.0 2.6,19.4 C2.4,19.9 1.8,19.9 1.6,19.4 C1.0,18.0 -0.2,16.0 -0.1,14.4 C0.2,13.0 1.8,12.6 3.4,13.2 C2.6,11.6 1.2,10.2 0.5,8.6 C1.8,7.4 3.6,6.4 3.8,4.6 C3.8,3.0 2.8,1.6 1.7,0.3 Z"/>
<path transform="translate(330,903.5) scale(1)" d="M1.7,0.3 C2.8,0.2 3.5,1.5 4.1,2.2 L7.4,5.8 C6.4,7.2 4.4,8.4 3.9,10.2 C4.0,11.6 5.8,13.8 6.8,15.2 C6.6,15.8 6.0,16.0 5.6,15.4 C4.8,14.6 3.0,14.4 2.4,15.0 C1.8,15.8 2.4,18.0 2.6,19.4 C2.4,19.9 1.8,19.9 1.6,19.4 C1.0,18.0 -0.2,16.0 -0.1,14.4 C0.2,13.0 1.8,12.6 3.4,13.2 C2.6,11.6 1.2,10.2 0.5,8.6 C1.8,7.4 3.6,6.4 3.8,4.6 C3.8,3.0 2.8,1.6 1.7,0.3 Z"/>
<path transform="translate(338.5,903.5) scale(1)" d="M1.7,0.3 C2.8,0.2 3.5,1.5 4.1,2.2 L7.4,5.8 C6.4,7.2 4.4,8.4 3.9,10.2 C4.0,11.6 5.8,13.8 6.8,15.2 C6.6,15.8 6.0,16.0 5.6,15.4 C4.8,14.6 3.0,14.4 2.4,15.0 C1.8,15.8 2.4,18.0 2.6,19.4 C2.4,19.9 1.8,19.9 1.6,19.4 C1.0,18.0 -0.2,16.0 -0.1,14.4 C0.2,13.0 1.8,12.6 3.4,13.2 C2.6,11.6 1.2,10.2 0.5,8.6 C1.8,7.4 3.6,6.4 3.8,4.6 C3.8,3.0 2.8,1.6 1.7,0.3 Z"/>
<path transform="translate(347,903.5) scale(1)" d="M1.7,0.3 C2.8,0.2 3.5,1.5 4.1,2.2 L7.4,5.8 C6.4,7.2 4.4,8.4 3.9,10.2 C4.0,11.6 5.8,13.8 6.8,15.2 C6.6,15.8 6.0,16.0 5.6,15.4 C4.8,14.6 3.0,14.4 2.4,15.0 C1.8,15.8 2.4,18.0 2.6,19.4 C2.4,19.9 1.8,19.9 1.6,19.4 C1.0,18.0 -0.2,16.0 -0.1,14.4 C0.2,13.0 1.8,12.6 3.4,13.2 C2.6,11.6 1.2,10.2 0.5,8.6 C1.8,7.4 3.6,6.4 3.8,4.6 C3.8,3.0 2.8,1.6 1.7,0.3 Z"/>
<rect x="75.8" y="1043.3" width="19" height="1.7"/>
<rect x="80" y="1044.9" width="10.7" height="3.9"/>
<line x1="88.1" y1="1048.5" x2="83.03" y2="1071.5" stroke="#000" stroke-width="1.2" stroke-linecap="round"/>
<circle cx="82.07" cy="1053.7" r="1.95"/>
<path d="M82.57,1055.3 L86.97,1055.2" stroke="#000" stroke-width="1.0" fill="none"/>
<circle cx="80.48" cy="1060.9" r="1.95"/>
<path d="M80.98,1062.5 L85.38,1062.4" stroke="#000" stroke-width="1.0" fill="none"/>
<polygon points="81.8,1048.3 88.1,1048.3 86.9,1052.5 83.8,1051.5"/>
<line x1="233.5" y1="1084.4" x2="226.4" y2="1116.6" stroke="#000" stroke-width="1.15" stroke-linecap="round"/>
<circle cx="228.46" cy="1085.1" r="1.95"/>
<path d="M228.96,1086.7 L233.36,1086.6" stroke="#000" stroke-width="1.0" fill="none"/>
<circle cx="226.9" cy="1092.15" r="1.95"/>
<path d="M227.4,1093.75 L231.8,1093.65" stroke="#000" stroke-width="1.0" fill="none"/>
<circle cx="225.35" cy="1099.2" r="1.95"/>
<path d="M225.85,1100.8 L230.25,1100.7" stroke="#000" stroke-width="1.0" fill="none"/>
<circle cx="223.8" cy="1106.25" r="1.95"/>
<path d="M224.3,1107.85 L228.7,1107.75" stroke="#000" stroke-width="1.0" fill="none"/>
<line x1="379.5" y1="927.3" x2="372.4" y2="959.5" stroke="#000" stroke-width="1.15" stroke-linecap="round"/>
<circle cx="374.46" cy="928" r="1.95"/>
<path d="M374.96,929.6 L379.36,929.5" stroke="#000" stroke-width="1.0" fill="none"/>
<circle cx="372.9" cy="935.05" r="1.95"/>
<path d="M373.4,936.65 L377.8,936.55" stroke="#000" stroke-width="1.0" fill="none"/>
<circle cx="371.35" cy="942.1" r="1.95"/>
<path d="M371.85,943.7 L376.25,943.6" stroke="#000" stroke-width="1.0" fill="none"/>
<circle cx="369.8" cy="949.15" r="1.95"/>
<path d="M370.3,950.75 L374.7,950.65" stroke="#000" stroke-width="1.0" fill="none"/>
<circle cx="384.5" cy="927.8" r="1.2"/>
<line x1="450.5" y1="1056.3" x2="443.4" y2="1088.5" stroke="#000" stroke-width="1.15" stroke-linecap="round"/>
<circle cx="445.46" cy="1057" r="1.95"/>
<path d="M445.96,1058.6 L450.36,1058.5" stroke="#000" stroke-width="1.0" fill="none"/>
<circle cx="443.9" cy="1064.05" r="1.95"/>
<path d="M444.4,1065.65 L448.8,1065.55" stroke="#000" stroke-width="1.0" fill="none"/>
<circle cx="442.35" cy="1071.1" r="1.95"/>
<path d="M442.85,1072.7 L447.25,1072.6" stroke="#000" stroke-width="1.0" fill="none"/>
<circle cx="440.8" cy="1078.15" r="1.95"/>
<path d="M441.3,1079.75 L445.7,1079.65" stroke="#000" stroke-width="1.0" fill="none"/>
<line x1="484.8" y1="1056.3" x2="477.7" y2="1088.5" stroke="#000" stroke-width="1.15" stroke-linecap="round"/>
<circle cx="479.76" cy="1057" r="1.95"/>
<path d="M480.26,1058.6 L484.66,1058.5" stroke="#000" stroke-width="1.0" fill="none"/>
<circle cx="478.2" cy="1064.05" r="1.95"/>
<path d="M478.7,1065.65 L483.1,1065.55" stroke="#000" stroke-width="1.0" fill="none"/>
<circle cx="476.65" cy="1071.1" r="1.95"/>
<path d="M477.15,1072.7 L481.55,1072.6" stroke="#000" stroke-width="1.0" fill="none"/>
<circle cx="475.1" cy="1078.15" r="1.95"/>
<path d="M475.6,1079.75 L480,1079.65" stroke="#000" stroke-width="1.0" fill="none"/>
<circle cx="127.6" cy="1040" r="1.15"/>
<circle cx="127.6" cy="1047" r="1.15"/>
<circle cx="127.6" cy="1053.6" r="1.15"/>
<circle cx="134" cy="1040" r="1.15"/>
<circle cx="134" cy="1047" r="1.15"/>
<circle cx="141" cy="1040" r="1.15"/>
<circle cx="146.4" cy="1040" r="1.15"/>
<text x="40" y="31.4" font-size="16.3" text-anchor="start" stroke="none">44</text>
</g>
</svg>
</body></html>
